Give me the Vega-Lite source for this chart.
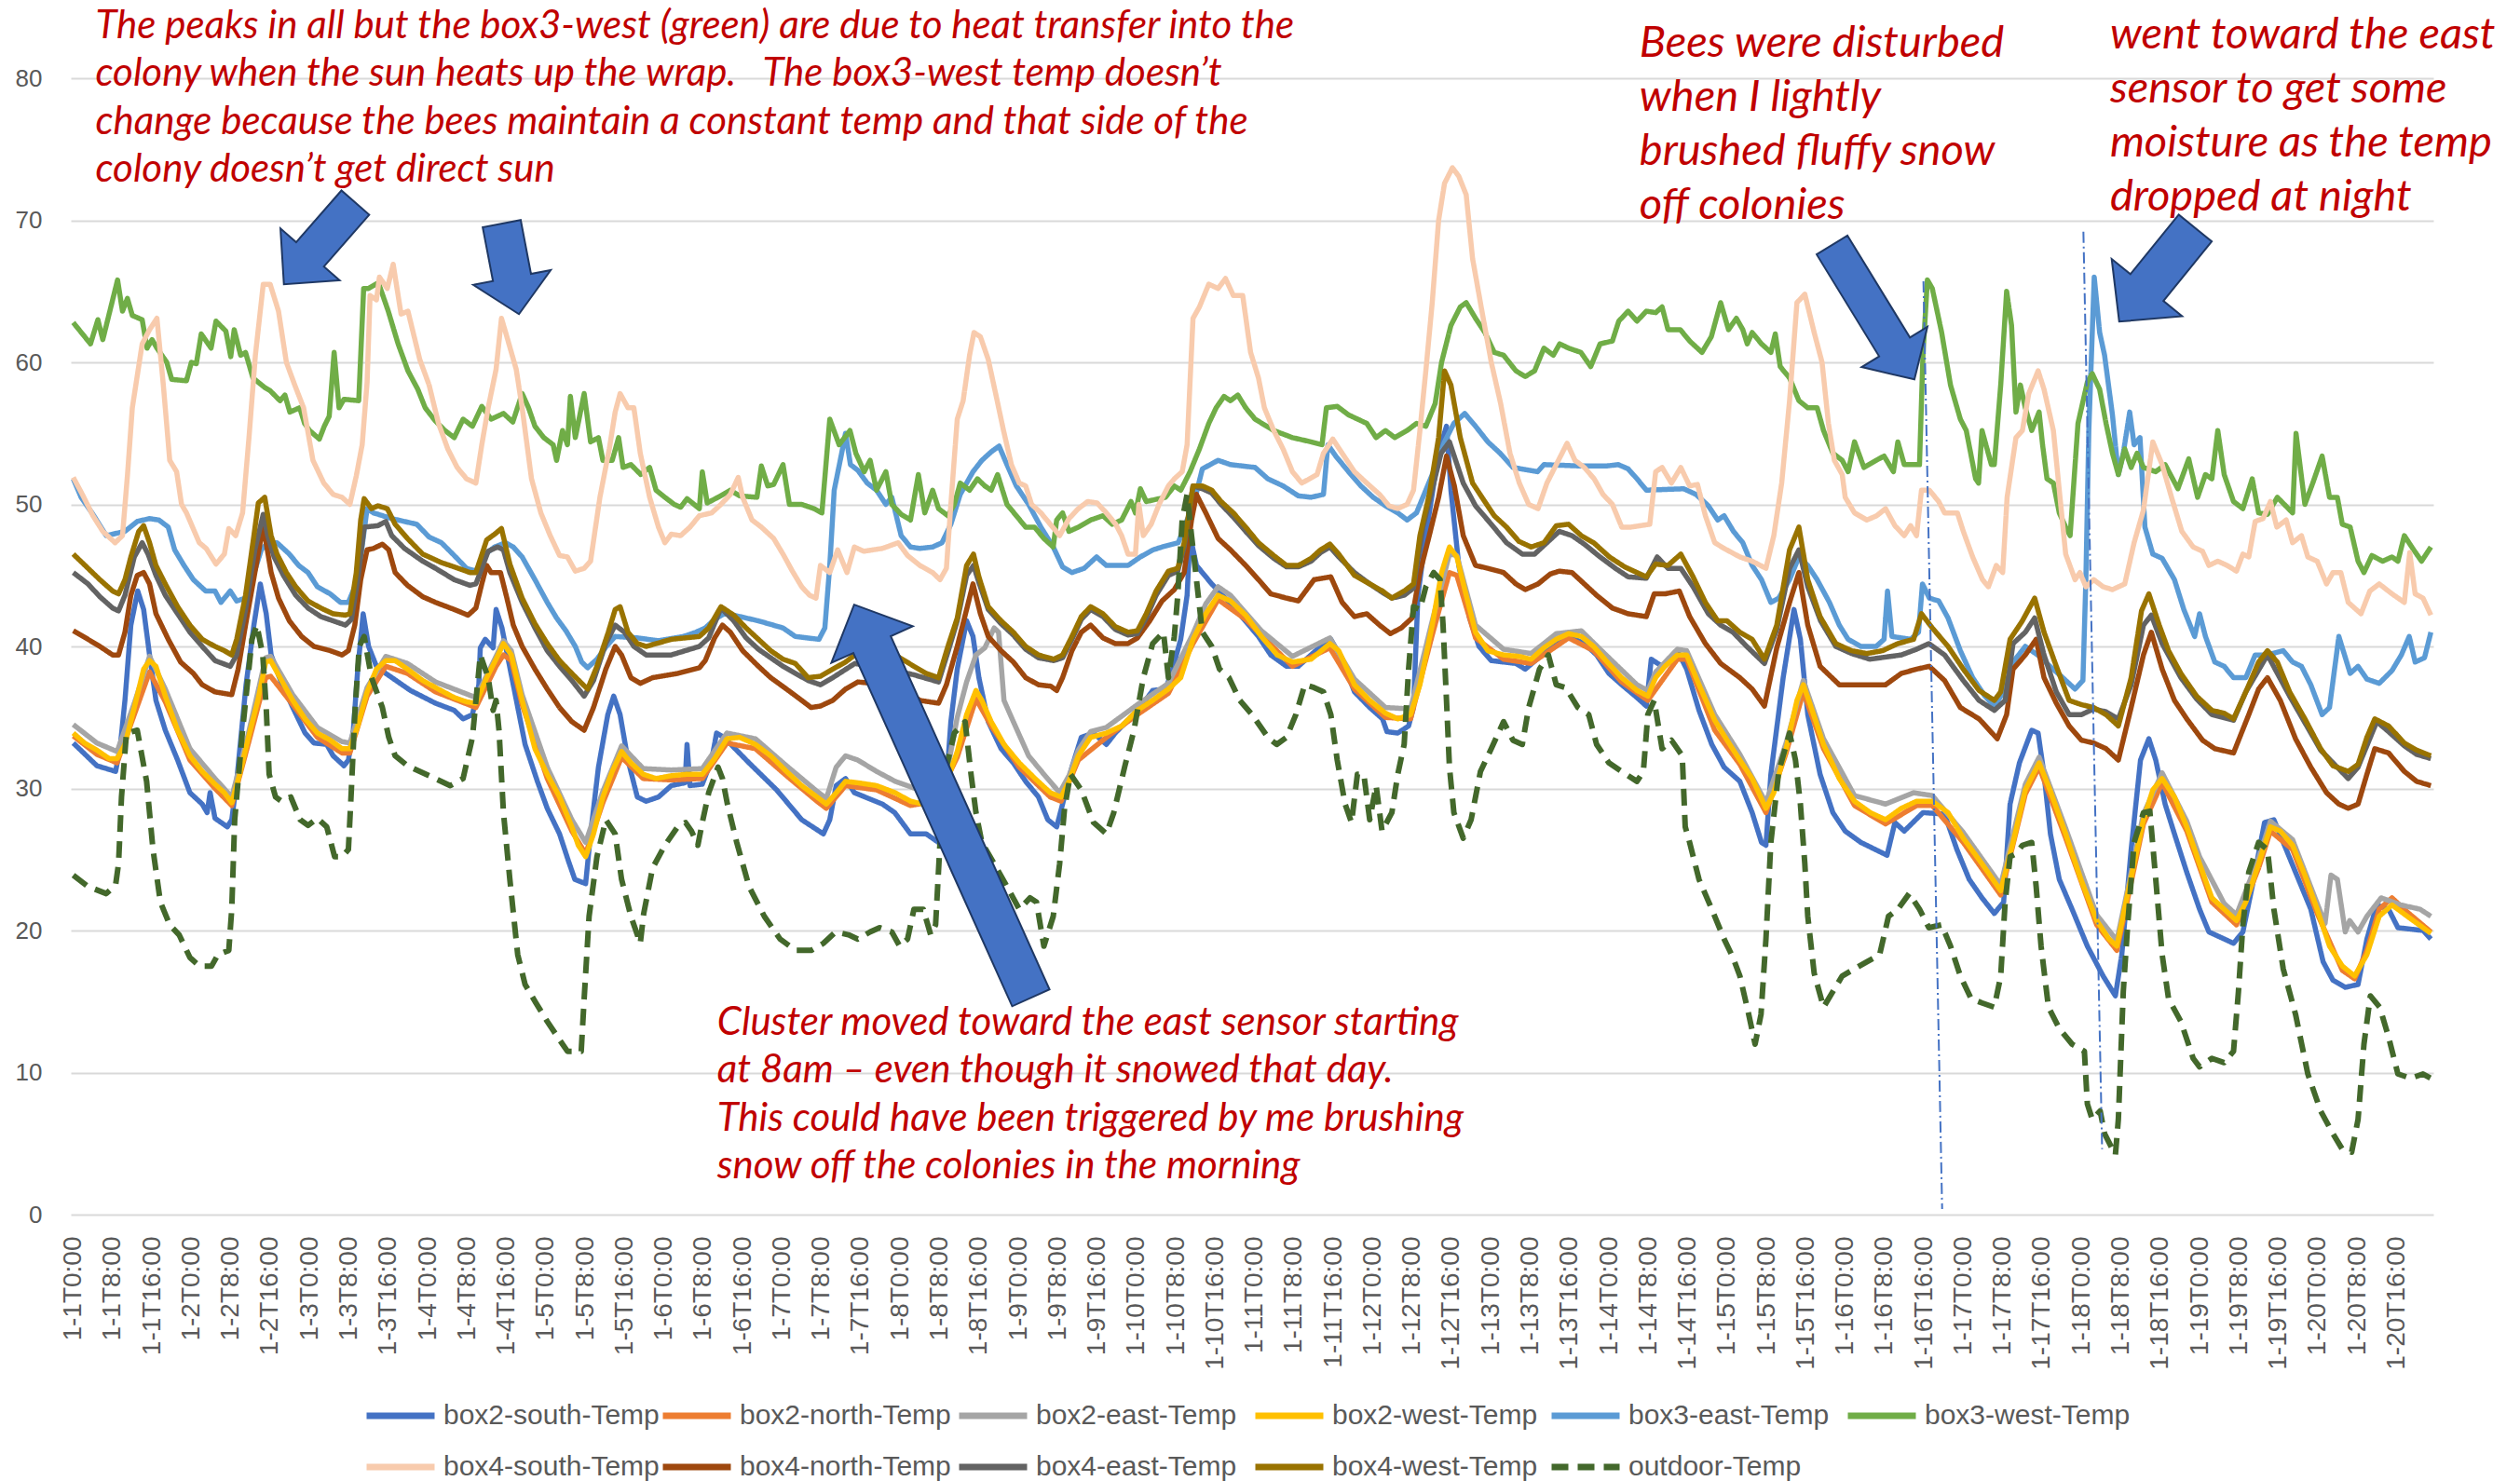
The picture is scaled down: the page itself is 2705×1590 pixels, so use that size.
{
"$schema":"https://vega.github.io/schema/vega-lite/v6.json",
"width":2536,"height":1220,
"autosize":{"type":"none"},
"padding":{"left":76,"top":84,"right":93,"bottom":286},
"background":"white",
"config":{"view":{"stroke":null}},
"datasets":{
"s2":[{"h":0,"v":33.2},{"h":4.8,"v":31.6},{"h":8.6,"v":31.2},{"h":9.5,"v":32.8},{"h":10.5,"v":36.2},{"h":11.7,"v":41.5},{"h":13.1,"v":43.9},{"h":14.3,"v":42.6},{"h":15.5,"v":39.4},{"h":16.8,"v":36.2},{"h":18.7,"v":34.1},{"h":21.2,"v":32},{"h":23.7,"v":29.7},{"h":26.2,"v":28.9},{"h":27.2,"v":28.3},{"h":27.8,"v":29.7},{"h":28.8,"v":27.9},{"h":31.3,"v":27.3},{"h":32.2,"v":27.8},{"h":33.2,"v":30.5},{"h":35.1,"v":37.3},{"h":36.7,"v":41.5},{"h":38,"v":44.4},{"h":39.2,"v":42.3},{"h":40.2,"v":39.4},{"h":42.1,"v":37.6},{"h":44.6,"v":35.7},{"h":47.1,"v":33.9},{"h":48.9,"v":33.2},{"h":51.5,"v":33.1},{"h":52.8,"v":32.3},{"h":55,"v":31.6},{"h":55.9,"v":32},{"h":56.9,"v":34.1},{"h":57.8,"v":38.4},{"h":58.9,"v":42.3},{"h":60,"v":40},{"h":61.6,"v":38.6},{"h":63.5,"v":38.1},{"h":68.5,"v":36.9},{"h":73.6,"v":36},{"h":77.4,"v":35.5},{"h":79.2,"v":34.9},{"h":81.1,"v":35.2},{"h":82.4,"v":37.3},{"h":82.7,"v":39.9},{"h":83.7,"v":40.5},{"h":85.3,"v":39.9},{"h":85.9,"v":42.6},{"h":87.1,"v":41.3},{"h":89.4,"v":37.3},{"h":91.8,"v":33.1},{"h":94.3,"v":30.5},{"h":96.3,"v":28.6},{"h":98.8,"v":26.8},{"h":100.6,"v":24.9},{"h":101.9,"v":23.6},{"h":104.1,"v":23.3},{"h":105.1,"v":26.8},{"h":106.7,"v":31.5},{"h":108.6,"v":35.2},{"h":109.8,"v":36.5},{"h":111.1,"v":35.2},{"h":112.7,"v":32},{"h":114.6,"v":29.4},{"h":116.4,"v":29.1},{"h":118.9,"v":29.4},{"h":121.5,"v":30.2},{"h":124.3,"v":30.4},{"h":124.7,"v":33.1},{"h":125.3,"v":30.2},{"h":127.8,"v":30.3},{"h":129.7,"v":32},{"h":130.7,"v":33.9},{"h":132.2,"v":33.6},{"h":137.3,"v":31.8},{"h":142.9,"v":29.9},{"h":148,"v":27.8},{"h":152.4,"v":26.8},{"h":153.7,"v":27.8},{"h":155,"v":30.2},{"h":156.9,"v":30.7},{"h":158.7,"v":29.7},{"h":164.4,"v":28.9},{"h":166.9,"v":28.3},{"h":170.1,"v":26.8},{"h":173.3,"v":26.8},{"h":175.8,"v":26.2},{"h":177.1,"v":28.9},{"h":178.3,"v":34.7},{"h":179.6,"v":38.4},{"h":181.5,"v":41.8},{"h":182.8,"v":40.7},{"h":184,"v":37.8},{"h":185.9,"v":34.7},{"h":188.5,"v":32.8},{"h":191,"v":31.8},{"h":193.5,"v":30.5},{"h":196.1,"v":29.4},{"h":198,"v":27.8},{"h":199.8,"v":27.3},{"h":201,"v":28.9},{"h":202.9,"v":31.5},{"h":204.8,"v":33.6},{"h":207.3,"v":33.9},{"h":209.9,"v":33.1},{"h":211.7,"v":33.9},{"h":216.8,"v":35.7},{"h":219.3,"v":36.9},{"h":221.9,"v":37},{"h":223.1,"v":38.1},{"h":225,"v":40.5},{"h":226.3,"v":43.6},{"h":226.9,"v":47.8},{"h":228.2,"v":45.7},{"h":231.3,"v":44.4},{"h":235.7,"v":42.8},{"h":240.8,"v":40.7},{"h":243.3,"v":39.4},{"h":246.5,"v":38.6},{"h":248.9,"v":38.6},{"h":253.4,"v":40},{"h":255.5,"v":40.5},{"h":257.8,"v":39.1},{"h":260.3,"v":36.8},{"h":263.4,"v":35.7},{"h":266,"v":34.9},{"h":266.9,"v":34},{"h":269.1,"v":33.9},{"h":271.3,"v":34.4},{"h":272.3,"v":35.7},{"h":273.2,"v":43.6},{"h":274.8,"v":47.8},{"h":276.7,"v":52.1},{"h":278.3,"v":54.7},{"h":279,"v":55.5},{"h":279.9,"v":51},{"h":281.5,"v":45.7},{"h":283.7,"v":42},{"h":285.6,"v":40},{"h":288.1,"v":39},{"h":293.1,"v":38.8},{"h":295,"v":38.4},{"h":299.4,"v":39.7},{"h":301.9,"v":40.5},{"h":304.5,"v":40.6},{"h":307,"v":40.2},{"h":309.5,"v":39.4},{"h":312,"v":38.1},{"h":314.6,"v":37.3},{"h":317.7,"v":36.4},{"h":319.6,"v":35.8},{"h":320.6,"v":39.1},{"h":322.8,"v":38.6},{"h":325.9,"v":39.7},{"h":327.8,"v":38.4},{"h":330.3,"v":35.5},{"h":332.9,"v":33.1},{"h":335.4,"v":31.5},{"h":338.6,"v":30.5},{"h":341.1,"v":28.3},{"h":343,"v":26.2},{"h":343.9,"v":26},{"h":344.9,"v":31},{"h":347.4,"v":37.8},{"h":349.6,"v":42.6},{"h":350.9,"v":40.5},{"h":352.4,"v":35.2},{"h":354.9,"v":31},{"h":357.5,"v":28.3},{"h":360,"v":27},{"h":363.2,"v":26.2},{"h":368.5,"v":25.3},{"h":370.1,"v":27.6},{"h":372,"v":27},{"h":375.8,"v":28.3},{"h":380.2,"v":28.2},{"h":382.7,"v":25.7},{"h":385.2,"v":23.6},{"h":387.8,"v":22.3},{"h":390.3,"v":21.2},{"h":392.2,"v":22},{"h":393.5,"v":28.9},{"h":395.4,"v":31.8},{"h":397.9,"v":34.1},{"h":399.2,"v":33.9},{"h":400.4,"v":31},{"h":401.7,"v":26.8},{"h":403.5,"v":23.6},{"h":406.1,"v":21.5},{"h":409.2,"v":18.9},{"h":412.4,"v":16.8},{"h":414.9,"v":15.4},{"h":416.2,"v":18.3},{"h":418.1,"v":25.7},{"h":420,"v":32},{"h":421.7,"v":33.5},{"h":423.1,"v":32},{"h":425,"v":28.9},{"h":426.9,"v":26.8},{"h":429.4,"v":24.1},{"h":432,"v":21.5},{"h":433.9,"v":19.9},{"h":438.9,"v":19.1},{"h":440.8,"v":19.9},{"h":442.7,"v":23.1},{"h":445.2,"v":27.6},{"h":447.1,"v":27.8},{"h":449.6,"v":25.7},{"h":452.1,"v":23.6},{"h":454.6,"v":21.5},{"h":457.1,"v":17.8},{"h":459.1,"v":16.5},{"h":461.6,"v":16},{"h":464.2,"v":16.2},{"h":466,"v":19.4},{"h":468,"v":21.8},{"h":470.4,"v":21.5},{"h":472.3,"v":20.2},{"h":477.4,"v":20},{"h":479,"v":19.4}],
"n2":[{"h":0,"v":33.7},{"h":4.8,"v":32.4},{"h":8.9,"v":31.8},{"h":12.4,"v":35.2},{"h":15.5,"v":38.2},{"h":18.7,"v":36.1},{"h":23.7,"v":32},{"h":28.8,"v":30},{"h":32.2,"v":28.8},{"h":35.6,"v":33.2},{"h":39.1,"v":37.8},{"h":40.1,"v":37.9},{"h":44.6,"v":35.9},{"h":49.6,"v":33.6},{"h":54.6,"v":32.5},{"h":56.2,"v":32.5},{"h":59.7,"v":36.5},{"h":63.5,"v":38.6},{"h":67.9,"v":38.1},{"h":73.6,"v":36.8},{"h":81.8,"v":35.7},{"h":85.9,"v":38.6},{"h":87.4,"v":39.4},{"h":89,"v":39},{"h":91.2,"v":35.9},{"h":96.3,"v":30.7},{"h":101.3,"v":27},{"h":104.1,"v":25.4},{"h":107.6,"v":29},{"h":111.4,"v":32.2},{"h":115.8,"v":30.7},{"h":121.5,"v":30.6},{"h":127.8,"v":30.7},{"h":132.8,"v":33.2},{"h":138.6,"v":32.8},{"h":144.9,"v":30.9},{"h":151.1,"v":29.1},{"h":153,"v":28.6},{"h":156.9,"v":30.2},{"h":163.2,"v":29.9},{"h":170.1,"v":28.8},{"h":175.2,"v":29.1},{"h":179.6,"v":32.2},{"h":183.4,"v":36.3},{"h":186.5,"v":34.4},{"h":192.2,"v":31.5},{"h":198.5,"v":29.4},{"h":200.7,"v":29.1},{"h":204.2,"v":32},{"h":209.9,"v":33.6},{"h":216.2,"v":35.2},{"h":222.5,"v":36.7},{"h":227.5,"v":40.2},{"h":232.6,"v":43.3},{"h":238.2,"v":41.9},{"h":247.7,"v":38.6},{"h":255.3,"v":39.9},{"h":260.3,"v":37},{"h":266.6,"v":35},{"h":271.7,"v":34.9},{"h":276.1,"v":40.8},{"h":279.6,"v":45.2},{"h":281.1,"v":45},{"h":284.9,"v":40.6},{"h":290.6,"v":39.1},{"h":296.2,"v":38.8},{"h":303.8,"v":40.6},{"h":308.9,"v":39.7},{"h":314.6,"v":37.5},{"h":319.9,"v":36.2},{"h":325.9,"v":39.1},{"h":327.8,"v":39.1},{"h":333.5,"v":34.1},{"h":338.6,"v":31.7},{"h":343.9,"v":28.3},{"h":348,"v":32.5},{"h":351.5,"v":36.8},{"h":355.6,"v":32.8},{"h":361.9,"v":28.8},{"h":368.2,"v":27.5},{"h":374.5,"v":28.8},{"h":377.7,"v":28.8},{"h":384,"v":26.2},{"h":391.6,"v":22.5},{"h":396.6,"v":29.6},{"h":399.4,"v":31.5},{"h":404.8,"v":26.5},{"h":411.1,"v":20.4},{"h":415.2,"v":18.6},{"h":420.6,"v":27.5},{"h":424.4,"v":30.4},{"h":429.4,"v":27},{"h":434.5,"v":22},{"h":439.5,"v":20.4},{"h":444,"v":24.4},{"h":446.4,"v":27},{"h":450.9,"v":25.7},{"h":455.9,"v":21.2},{"h":461,"v":17.2},{"h":463.5,"v":16.6},{"h":466,"v":18.6},{"h":468.5,"v":21.5},{"h":471.1,"v":22.3},{"h":474.2,"v":21.3},{"h":479,"v":19.9}],
"e2":[{"h":0,"v":34.5},{"h":4.8,"v":33.2},{"h":8.9,"v":32.6},{"h":12.4,"v":36},{"h":15.5,"v":39.3},{"h":18.7,"v":37},{"h":23.7,"v":32.8},{"h":28.8,"v":30.7},{"h":32.2,"v":29.4},{"h":35.6,"v":33.9},{"h":39.1,"v":39.2},{"h":40.1,"v":39.3},{"h":44.6,"v":36.6},{"h":49.6,"v":34.3},{"h":54.6,"v":33.3},{"h":56.2,"v":33.2},{"h":59.7,"v":37.1},{"h":63.5,"v":39.3},{"h":67.9,"v":38.8},{"h":73.6,"v":37.5},{"h":81.8,"v":36.4},{"h":85.9,"v":39.3},{"h":87.4,"v":40.4},{"h":89,"v":39.7},{"h":91.2,"v":36.6},{"h":96.3,"v":31.5},{"h":101.3,"v":27.8},{"h":104.1,"v":26.2},{"h":107.6,"v":29.8},{"h":111.4,"v":33},{"h":115.8,"v":31.4},{"h":121.5,"v":31.3},{"h":127.8,"v":31.4},{"h":132.8,"v":33.9},{"h":138.6,"v":33.5},{"h":144.9,"v":31.6},{"h":151.1,"v":29.8},{"h":153,"v":29.3},{"h":155,"v":31.5},{"h":156.9,"v":32.3},{"h":159.4,"v":32},{"h":163.2,"v":31.2},{"h":167,"v":30.5},{"h":172.7,"v":29.8},{"h":175.2,"v":30},{"h":177.7,"v":31.5},{"h":179.6,"v":35},{"h":181.5,"v":37.5},{"h":183.4,"v":39.4},{"h":185.2,"v":39.9},{"h":187.1,"v":41.3},{"h":188,"v":41},{"h":189.1,"v":36.2},{"h":191,"v":34.7},{"h":194.1,"v":32.3},{"h":197.2,"v":31},{"h":200.4,"v":29.7},{"h":202.3,"v":30.9},{"h":204.2,"v":32.7},{"h":206.7,"v":34},{"h":209.9,"v":34.3},{"h":216.2,"v":35.9},{"h":222.5,"v":37.4},{"h":227.5,"v":40.9},{"h":230.1,"v":43},{"h":232.6,"v":44.2},{"h":235.1,"v":43.6},{"h":241.4,"v":41.1},{"h":247.7,"v":39.3},{"h":255.3,"v":40.6},{"h":260.3,"v":37.7},{"h":266.6,"v":35.7},{"h":271.7,"v":35.6},{"h":276.1,"v":41.8},{"h":279.6,"v":46.5},{"h":281.1,"v":46.4},{"h":284.9,"v":41.5},{"h":290.6,"v":39.8},{"h":296.2,"v":39.5},{"h":301.3,"v":40.9},{"h":306.4,"v":41.1},{"h":311.4,"v":39.4},{"h":317.7,"v":37.3},{"h":319.9,"v":36.9},{"h":321.5,"v":38.2},{"h":325.9,"v":39.8},{"h":327.8,"v":39.7},{"h":333.5,"v":35.2},{"h":338.6,"v":32.4},{"h":343.9,"v":29},{"h":348,"v":33.2},{"h":351.5,"v":37.6},{"h":355.6,"v":33.5},{"h":361.9,"v":29.5},{"h":368.2,"v":28.9},{"h":373.9,"v":29.7},{"h":377.7,"v":29.5},{"h":384,"v":26.9},{"h":391.6,"v":23.2},{"h":396.6,"v":30.3},{"h":399.4,"v":32.2},{"h":404.8,"v":27.2},{"h":411.1,"v":21.1},{"h":415.2,"v":19.3},{"h":420.6,"v":28.2},{"h":424.4,"v":31.1},{"h":429.4,"v":27.7},{"h":432,"v":25.2},{"h":437,"v":21.9},{"h":439.5,"v":21.1},{"h":444,"v":25.1},{"h":446.4,"v":27.7},{"h":450.9,"v":26.4},{"h":455.9,"v":21.9},{"h":457.5,"v":20.5},{"h":458.7,"v":23.9},{"h":460,"v":23.6},{"h":461.6,"v":19.9},{"h":462.5,"v":20.7},{"h":464.2,"v":19.9},{"h":466,"v":21},{"h":468.9,"v":22.3},{"h":472.9,"v":21.8},{"h":476.8,"v":21.5},{"h":479,"v":21}],
"w2":[{"h":0,"v":33.9},{"h":2.3,"v":33.2},{"h":4.8,"v":32.7},{"h":7.3,"v":32.1},{"h":8.9,"v":32.1},{"h":10.5,"v":33.1},{"h":12.4,"v":35.7},{"h":14.3,"v":38.4},{"h":15.5,"v":39},{"h":16.8,"v":38.6},{"h":18.7,"v":36.5},{"h":21.2,"v":34.1},{"h":23.7,"v":32.3},{"h":26.2,"v":31.2},{"h":28.8,"v":30.3},{"h":30.7,"v":29.7},{"h":32.2,"v":29},{"h":33.8,"v":31},{"h":35.6,"v":33.6},{"h":37.5,"v":36.2},{"h":39.1,"v":38.9},{"h":40.1,"v":39},{"h":42,"v":37.8},{"h":44.6,"v":36.2},{"h":47.1,"v":34.9},{"h":49.6,"v":33.9},{"h":52.2,"v":33.4},{"h":54.6,"v":32.8},{"h":56.2,"v":32.8},{"h":57.8,"v":34.4},{"h":59.7,"v":36.8},{"h":61.6,"v":38.4},{"h":63.5,"v":39},{"h":65.4,"v":39},{"h":67.9,"v":38.4},{"h":71,"v":37.6},{"h":73.6,"v":37.1},{"h":77.4,"v":36.4},{"h":79.9,"v":36.1},{"h":81.8,"v":36},{"h":84,"v":37.8},{"h":85.9,"v":39.1},{"h":87.4,"v":40.2},{"h":89,"v":39.4},{"h":91.2,"v":36.2},{"h":93.8,"v":32.8},{"h":96.3,"v":31},{"h":98.8,"v":29.4},{"h":101.3,"v":27.3},{"h":102.6,"v":26},{"h":104.1,"v":25.2},{"h":105.7,"v":26.8},{"h":107.6,"v":29.4},{"h":109.5,"v":31.2},{"h":111.4,"v":32.6},{"h":113.3,"v":31.8},{"h":115.8,"v":31},{"h":118.4,"v":30.7},{"h":121.5,"v":30.9},{"h":124.7,"v":31},{"h":127.8,"v":31},{"h":130.3,"v":32.1},{"h":132.8,"v":33.5},{"h":135.4,"v":33.6},{"h":138.6,"v":33.1},{"h":141.7,"v":32.3},{"h":144.9,"v":31.2},{"h":148,"v":30.2},{"h":151.1,"v":29.4},{"h":153,"v":28.9},{"h":155,"v":29.7},{"h":156.9,"v":30.5},{"h":159.4,"v":30.4},{"h":163.2,"v":30.2},{"h":167,"v":29.7},{"h":170.1,"v":29.1},{"h":172.7,"v":28.9},{"h":175.2,"v":29.4},{"h":177.7,"v":30.7},{"h":179.6,"v":32.6},{"h":181.5,"v":35.2},{"h":183.4,"v":36.9},{"h":184.6,"v":36.2},{"h":186.5,"v":34.7},{"h":189.1,"v":33.1},{"h":192.2,"v":31.8},{"h":195.4,"v":30.7},{"h":198.5,"v":29.7},{"h":200.7,"v":29.4},{"h":202.3,"v":30.5},{"h":204.2,"v":32.3},{"h":206.7,"v":33.6},{"h":209.9,"v":33.9},{"h":213,"v":34.4},{"h":216.2,"v":35.5},{"h":219.3,"v":36.2},{"h":222.5,"v":37},{"h":225,"v":37.8},{"h":227.5,"v":40.5},{"h":230.1,"v":42.3},{"h":232.6,"v":43.6},{"h":235.1,"v":43.2},{"h":238.2,"v":42.2},{"h":241.4,"v":40.7},{"h":244.6,"v":39.4},{"h":247.7,"v":38.9},{"h":251.5,"v":39.1},{"h":255.3,"v":40.2},{"h":257.1,"v":39.7},{"h":260.3,"v":37.3},{"h":263.4,"v":36.2},{"h":266.6,"v":35.3},{"h":269.1,"v":34.9},{"h":271.7,"v":35.2},{"h":273.6,"v":37.3},{"h":276.1,"v":41.5},{"h":278,"v":45.2},{"h":279.6,"v":47},{"h":281.1,"v":46.3},{"h":283,"v":43.6},{"h":284.9,"v":41},{"h":287.4,"v":39.7},{"h":290.6,"v":39.4},{"h":293.7,"v":39.3},{"h":296.2,"v":39.1},{"h":298.8,"v":39.9},{"h":301.3,"v":40.5},{"h":303.8,"v":40.9},{"h":306.4,"v":40.7},{"h":308.9,"v":40},{"h":311.4,"v":39},{"h":314.6,"v":37.8},{"h":317.7,"v":36.9},{"h":319.9,"v":36.5},{"h":321.5,"v":37.8},{"h":323.4,"v":38.6},{"h":325.9,"v":39.4},{"h":327.8,"v":39.4},{"h":330.3,"v":37.3},{"h":333.5,"v":34.8},{"h":336,"v":33.4},{"h":338.6,"v":32},{"h":341.1,"v":30.7},{"h":343.9,"v":28.6},{"h":345.5,"v":29.7},{"h":348,"v":32.8},{"h":350.2,"v":36.2},{"h":351.5,"v":37.3},{"h":353.1,"v":35.7},{"h":355.6,"v":33.1},{"h":358.8,"v":30.7},{"h":361.9,"v":29.1},{"h":365.1,"v":28.3},{"h":368.2,"v":27.8},{"h":371.4,"v":28.6},{"h":374.5,"v":29.1},{"h":377.7,"v":29.1},{"h":380.9,"v":28.3},{"h":384,"v":26.5},{"h":387.8,"v":24.7},{"h":391.6,"v":22.8},{"h":394.1,"v":26.2},{"h":396.6,"v":29.9},{"h":399.4,"v":31.8},{"h":401.6,"v":29.9},{"h":404.8,"v":26.8},{"h":407.9,"v":23.6},{"h":411.1,"v":20.7},{"h":413.6,"v":19.4},{"h":415.2,"v":18.9},{"h":417.4,"v":22.6},{"h":420.6,"v":27.8},{"h":422.5,"v":29.9},{"h":424.4,"v":30.7},{"h":426.9,"v":29.4},{"h":429.4,"v":27.3},{"h":432,"v":24.7},{"h":434.5,"v":22.3},{"h":437,"v":21.5},{"h":439.5,"v":20.7},{"h":441.4,"v":22},{"h":444,"v":24.7},{"h":446.4,"v":27.3},{"h":448.4,"v":27},{"h":450.9,"v":26},{"h":453.4,"v":23.9},{"h":455.9,"v":21.5},{"h":458.4,"v":18.9},{"h":461,"v":17.5},{"h":463.5,"v":16.8},{"h":466,"v":18.3},{"h":468.5,"v":21},{"h":471.1,"v":21.8},{"h":474.2,"v":21},{"h":477.4,"v":20.2},{"h":479,"v":19.8}],
"e3":[{"h":0,"v":51.8},{"h":1.6,"v":50.5},{"h":4,"v":49.3},{"h":6.7,"v":47.8},{"h":10.5,"v":48.1},{"h":13,"v":48.8},{"h":15.5,"v":49},{"h":17.4,"v":48.9},{"h":19.3,"v":48.4},{"h":20.6,"v":46.8},{"h":22.5,"v":45.7},{"h":24.4,"v":44.7},{"h":26.9,"v":43.9},{"h":28.8,"v":43.9},{"h":30,"v":43.1},{"h":31.9,"v":43.9},{"h":33.2,"v":43.2},{"h":35,"v":43.4},{"h":36.3,"v":44.7},{"h":38.2,"v":46.8},{"h":39.5,"v":47.3},{"h":41.4,"v":47.3},{"h":43.9,"v":46.5},{"h":45.8,"v":45.7},{"h":47.7,"v":45.2},{"h":49.6,"v":44.2},{"h":52.2,"v":43.7},{"h":54.3,"v":43.1},{"h":55.9,"v":43.1},{"h":57.8,"v":44.7},{"h":59.7,"v":49.7},{"h":61,"v":49.4},{"h":64.7,"v":49},{"h":69.8,"v":48.6},{"h":72.3,"v":47.7},{"h":74.8,"v":47.3},{"h":77.4,"v":46.4},{"h":79.9,"v":45.5},{"h":81.8,"v":45.3},{"h":83.7,"v":46.5},{"h":85.6,"v":47},{"h":87.8,"v":47.3},{"h":89.4,"v":47},{"h":91.2,"v":46.3},{"h":93.8,"v":44.7},{"h":96.3,"v":43.1},{"h":98.2,"v":42},{"h":100.1,"v":41.1},{"h":102,"v":40},{"h":103.3,"v":38.9},{"h":104.5,"v":38.5},{"h":106.4,"v":39.1},{"h":108.3,"v":40},{"h":110.1,"v":40.7},{"h":114.6,"v":40.6},{"h":118.9,"v":40.4},{"h":124,"v":40.7},{"h":126.5,"v":41},{"h":128.4,"v":41.3},{"h":130.3,"v":41.9},{"h":132.2,"v":42.3},{"h":134.2,"v":42.2},{"h":139.2,"v":41.8},{"h":144.2,"v":41.3},{"h":146.7,"v":40.7},{"h":151.5,"v":40.5},{"h":152.7,"v":41.3},{"h":153.7,"v":45.7},{"h":154.6,"v":51},{"h":156,"v":53.4},{"h":156.9,"v":55},{"h":157.9,"v":52.8},{"h":159.4,"v":52.4},{"h":161.3,"v":51.5},{"h":163.2,"v":51},{"h":165.1,"v":50},{"h":166.3,"v":50.5},{"h":168.2,"v":47.8},{"h":170.1,"v":47},{"h":172,"v":46.9},{"h":174.6,"v":47},{"h":176.5,"v":47.3},{"h":178.3,"v":48.6},{"h":180.2,"v":50.7},{"h":182.8,"v":52.3},{"h":184.6,"v":53.1},{"h":186.5,"v":53.7},{"h":188.1,"v":54.1},{"h":189.7,"v":52.8},{"h":191.6,"v":51.3},{"h":194.1,"v":50},{"h":196.6,"v":48.4},{"h":199.1,"v":47},{"h":201,"v":45.6},{"h":202.9,"v":45.2},{"h":205.4,"v":45.5},{"h":207.9,"v":46.3},{"h":209.9,"v":45.7},{"h":214.3,"v":45.7},{"h":216.8,"v":46.3},{"h":219.4,"v":46.8},{"h":221.2,"v":47},{"h":224.5,"v":47.3},{"h":226.3,"v":48.9},{"h":227.6,"v":50},{"h":229.4,"v":52.5},{"h":232.6,"v":53.1},{"h":235.1,"v":52.8},{"h":240.1,"v":52.6},{"h":242.7,"v":51.8},{"h":245.8,"v":51.3},{"h":248.9,"v":50.6},{"h":251.5,"v":50.5},{"h":254,"v":50.7},{"h":254.9,"v":54.2},{"h":256.5,"v":53.4},{"h":259.1,"v":52.3},{"h":261.6,"v":51.3},{"h":264.1,"v":50.5},{"h":266.6,"v":49.9},{"h":269.1,"v":49.4},{"h":271,"v":48.9},{"h":272.9,"v":49.4},{"h":274.8,"v":51},{"h":276.7,"v":52.6},{"h":278.6,"v":54.4},{"h":280.5,"v":55.7},{"h":282.7,"v":56.4},{"h":284.9,"v":55.5},{"h":287.4,"v":54.4},{"h":289.9,"v":53.6},{"h":292.5,"v":52.6},{"h":297.5,"v":52.3},{"h":298.8,"v":52.8},{"h":306.4,"v":52.7},{"h":311.4,"v":52.7},{"h":313.9,"v":52.8},{"h":315.9,"v":52.5},{"h":317.7,"v":51.8},{"h":319.6,"v":51},{"h":327.2,"v":51.1},{"h":329.7,"v":50.7},{"h":332.2,"v":49.9},{"h":334.1,"v":48.9},{"h":335.4,"v":49.2},{"h":337.3,"v":48.1},{"h":339.2,"v":47.3},{"h":341.1,"v":45.7},{"h":343,"v":44.7},{"h":344.9,"v":43.1},{"h":346.5,"v":43.4},{"h":348.7,"v":44.7},{"h":350.6,"v":46.3},{"h":352.4,"v":45.7},{"h":354.3,"v":44.7},{"h":356.8,"v":43.1},{"h":358.8,"v":41.5},{"h":360.6,"v":40.5},{"h":363.2,"v":40},{"h":366.3,"v":40},{"h":367.9,"v":40.5},{"h":368.6,"v":43.9},{"h":369.5,"v":40.7},{"h":373.3,"v":40.5},{"h":374.9,"v":41},{"h":375.7,"v":44.4},{"h":377.1,"v":43.4},{"h":379,"v":43.2},{"h":380.9,"v":42},{"h":383.4,"v":39.7},{"h":385.9,"v":37.8},{"h":388.4,"v":36.5},{"h":390.3,"v":35.8},{"h":392.2,"v":36.8},{"h":394.1,"v":38.9},{"h":396.6,"v":40},{"h":399.1,"v":39.4},{"h":401.6,"v":38.6},{"h":404.2,"v":37.8},{"h":406.7,"v":37},{"h":408.3,"v":37.6},{"h":408.9,"v":44.7},{"h":409.5,"v":55.2},{"h":410.6,"v":66},{"h":411.7,"v":62.1},{"h":412.7,"v":60.5},{"h":414.3,"v":56.3},{"h":415.5,"v":52.1},{"h":416.5,"v":53.6},{"h":417.8,"v":56.5},{"h":418.7,"v":54.2},{"h":419.9,"v":54.7},{"h":420.9,"v":48.4},{"h":422.5,"v":46.5},{"h":424.4,"v":46.2},{"h":426.9,"v":44.7},{"h":428.8,"v":42.6},{"h":431,"v":40.7},{"h":432,"v":42.3},{"h":433.2,"v":40.7},{"h":435.1,"v":38.9},{"h":437,"v":38.6},{"h":438.9,"v":37.8},{"h":441.4,"v":37.8},{"h":443.3,"v":39.4},{"h":445.8,"v":39.4},{"h":449,"v":39.7},{"h":450.9,"v":38.9},{"h":452.7,"v":38.6},{"h":454.6,"v":37.3},{"h":456.9,"v":35.2},{"h":458.4,"v":35.7},{"h":460.3,"v":40.7},{"h":462.6,"v":38.1},{"h":464.2,"v":38.6},{"h":466,"v":37.7},{"h":468.5,"v":37.4},{"h":471.1,"v":38.3},{"h":473,"v":39.4},{"h":474.6,"v":40.7},{"h":475.8,"v":38.9},{"h":477.7,"v":39.2},{"h":479,"v":41}],
"w3":[{"h":0,"v":62.8},{"h":3.5,"v":61.3},{"h":5,"v":63},{"h":6,"v":61.6},{"h":9,"v":65.8},{"h":10,"v":63.6},{"h":11,"v":64.5},{"h":12,"v":63.3},{"h":14,"v":63},{"h":15,"v":61},{"h":16,"v":61.6},{"h":17,"v":61},{"h":19,"v":60},{"h":20,"v":58.8},{"h":23,"v":58.7},{"h":24,"v":60},{"h":25,"v":59.9},{"h":26,"v":62},{"h":28,"v":61},{"h":29,"v":62.9},{"h":31,"v":62.2},{"h":32,"v":60.4},{"h":32.7,"v":62.3},{"h":34,"v":60.5},{"h":35,"v":60.7},{"h":36.5,"v":58.9},{"h":39,"v":58.2},{"h":40,"v":58},{"h":42,"v":57.3},{"h":43,"v":57.7},{"h":44,"v":56.5},{"h":46,"v":56.8},{"h":47,"v":55.7},{"h":48,"v":55.2},{"h":50,"v":54.6},{"h":51,"v":55.5},{"h":52,"v":56.2},{"h":53,"v":60.7},{"h":54,"v":56.8},{"h":55,"v":57.4},{"h":58,"v":57.3},{"h":59,"v":65.2},{"h":60,"v":65.2},{"h":62,"v":65.6},{"h":64,"v":63.6},{"h":66,"v":61.3},{"h":68,"v":59.4},{"h":70,"v":58.1},{"h":71.5,"v":56.8},{"h":73.5,"v":55.9},{"h":75.5,"v":55.2},{"h":77.4,"v":54.7},{"h":79.2,"v":56},{"h":81.1,"v":55.5},{"h":83,"v":56.9},{"h":84.9,"v":56},{"h":87.4,"v":56.4},{"h":89.3,"v":55.8},{"h":91.2,"v":57.8},{"h":92.5,"v":56.8},{"h":93.8,"v":55.5},{"h":95.6,"v":54.7},{"h":97.5,"v":54.2},{"h":98.2,"v":53.1},{"h":99.4,"v":55.2},{"h":100.4,"v":54.2},{"h":101,"v":57.6},{"h":102,"v":54.7},{"h":103.8,"v":57.8},{"h":105.1,"v":54.4},{"h":106.7,"v":54.7},{"h":107.6,"v":53.1},{"h":109.5,"v":53.1},{"h":110.8,"v":54.7},{"h":111.7,"v":52.6},{"h":113.3,"v":52.8},{"h":115.3,"v":52.1},{"h":117.1,"v":52.6},{"h":118.4,"v":51},{"h":120.2,"v":50.5},{"h":122.1,"v":50},{"h":123.4,"v":49.8},{"h":124.7,"v":50.4},{"h":127.2,"v":49.7},{"h":127.8,"v":52.3},{"h":128.8,"v":50.1},{"h":131,"v":50.5},{"h":133.5,"v":51},{"h":135.4,"v":50.6},{"h":138.9,"v":50.5},{"h":139.8,"v":52.7},{"h":141.1,"v":51.3},{"h":142.3,"v":51.4},{"h":144.2,"v":52.8},{"h":145.5,"v":50},{"h":148,"v":50},{"h":150.5,"v":49.7},{"h":152.1,"v":49.4},{"h":153.7,"v":56},{"h":155.6,"v":54.2},{"h":157.8,"v":55.2},{"h":159,"v":53.6},{"h":160.7,"v":52.3},{"h":161.9,"v":53.1},{"h":163.2,"v":51},{"h":165.1,"v":52.3},{"h":166.3,"v":50},{"h":168.2,"v":49.3},{"h":170.1,"v":48.9},{"h":171.7,"v":52.1},{"h":173,"v":49.4},{"h":174.6,"v":51},{"h":175.8,"v":49.7},{"h":177.7,"v":49.2},{"h":179,"v":50},{"h":180.2,"v":51.5},{"h":182.1,"v":51},{"h":183.7,"v":51.8},{"h":185.2,"v":51.3},{"h":186.5,"v":51},{"h":187.8,"v":52.1},{"h":189.7,"v":50},{"h":191.6,"v":49.2},{"h":193.5,"v":48.4},{"h":195.3,"v":48.4},{"h":197.2,"v":47.6},{"h":199.1,"v":47},{"h":199.8,"v":48.9},{"h":201,"v":49.4},{"h":202.3,"v":48.1},{"h":204.2,"v":48.4},{"h":206.7,"v":48.9},{"h":209.2,"v":49.2},{"h":211.1,"v":48.6},{"h":213,"v":48.9},{"h":214.9,"v":50.2},{"h":215.8,"v":49.4},{"h":216.8,"v":51.1},{"h":218,"v":50.2},{"h":221.9,"v":50.5},{"h":223.7,"v":51.3},{"h":225,"v":51},{"h":226.9,"v":52.3},{"h":228.8,"v":53.9},{"h":230.7,"v":55.7},{"h":232.2,"v":56.8},{"h":233.8,"v":57.6},{"h":235.1,"v":57.3},{"h":236.6,"v":57.7},{"h":238.2,"v":56.8},{"h":240.1,"v":56},{"h":243.9,"v":55.2},{"h":247.7,"v":54.7},{"h":251.5,"v":54.4},{"h":253.7,"v":54.2},{"h":254.6,"v":56.8},{"h":256.8,"v":56.9},{"h":259.1,"v":56.3},{"h":262.8,"v":55.7},{"h":264.7,"v":54.7},{"h":266.6,"v":55.2},{"h":268.5,"v":54.7},{"h":271,"v":55.2},{"h":272.9,"v":55.7},{"h":274.8,"v":55.5},{"h":276.7,"v":57.1},{"h":278,"v":60},{"h":279.9,"v":62.6},{"h":281.8,"v":63.9},{"h":283,"v":64.2},{"h":284.9,"v":63.1},{"h":286.8,"v":62.1},{"h":288.7,"v":60.7},{"h":290.6,"v":60.5},{"h":293.1,"v":59.4},{"h":295,"v":59},{"h":296.9,"v":59.4},{"h":298.8,"v":61},{"h":300.7,"v":60.5},{"h":302,"v":61.3},{"h":303.8,"v":61},{"h":306.3,"v":60.7},{"h":308.3,"v":59.7},{"h":310.2,"v":61.3},{"h":312.7,"v":61.5},{"h":314,"v":62.9},{"h":315.9,"v":63.6},{"h":317.7,"v":62.9},{"h":319.6,"v":63.6},{"h":321.5,"v":63.5},{"h":322.8,"v":63.9},{"h":324,"v":62.3},{"h":326.5,"v":62.3},{"h":328.4,"v":61.5},{"h":330.9,"v":60.7},{"h":332.8,"v":61.8},{"h":334.7,"v":64.2},{"h":336.3,"v":62.3},{"h":337.9,"v":63.1},{"h":339.2,"v":62.3},{"h":340.1,"v":61.3},{"h":341.1,"v":62.1},{"h":343,"v":61.3},{"h":344.9,"v":60.7},{"h":345.8,"v":62},{"h":346.8,"v":59.7},{"h":348.7,"v":58.9},{"h":350.6,"v":57.3},{"h":352.4,"v":56.8},{"h":354.3,"v":56.8},{"h":355.6,"v":55.2},{"h":357.5,"v":53.6},{"h":359.4,"v":53.1},{"h":360.6,"v":52.3},{"h":361.9,"v":54.4},{"h":363.8,"v":52.6},{"h":366.3,"v":53.1},{"h":367.9,"v":53.4},{"h":369.8,"v":52.3},{"h":370.7,"v":54.4},{"h":372,"v":52.8},{"h":375.1,"v":52.8},{"h":375.8,"v":60.5},{"h":376.7,"v":65.8},{"h":377.7,"v":65.2},{"h":379.6,"v":62.1},{"h":381.4,"v":58.4},{"h":383.4,"v":56},{"h":384.6,"v":55.2},{"h":386.5,"v":51.8},{"h":387.1,"v":51.5},{"h":387.8,"v":55.2},{"h":389.7,"v":52.8},{"h":390.3,"v":52.8},{"h":391.6,"v":58.4},{"h":392.8,"v":65},{"h":393.8,"v":62.6},{"h":394.7,"v":56.5},{"h":395.6,"v":58.4},{"h":396.6,"v":56.8},{"h":397.9,"v":55.2},{"h":399.4,"v":56.5},{"h":400.1,"v":54.2},{"h":401,"v":51.8},{"h":402.3,"v":51.5},{"h":403.5,"v":49.4},{"h":404.8,"v":48.4},{"h":405.7,"v":47.8},{"h":407.3,"v":55.7},{"h":409.2,"v":58.6},{"h":410.2,"v":59.2},{"h":411.7,"v":58.1},{"h":413,"v":55.7},{"h":414.3,"v":53.6},{"h":415.5,"v":52.1},{"h":416.8,"v":53.9},{"h":418.1,"v":52.6},{"h":419.3,"v":53.6},{"h":420.6,"v":52.6},{"h":423.1,"v":52.3},{"h":425,"v":52.8},{"h":427.6,"v":51.1},{"h":429.8,"v":53.2},{"h":431.6,"v":50.5},{"h":433.2,"v":52.1},{"h":434.5,"v":51.8},{"h":435.7,"v":55.2},{"h":437,"v":52.1},{"h":438.9,"v":50.2},{"h":440.8,"v":49.7},{"h":442.7,"v":51.8},{"h":444,"v":49.4},{"h":445.8,"v":49.3},{"h":447.8,"v":50.5},{"h":450.9,"v":49.4},{"h":451.6,"v":55},{"h":453.4,"v":50},{"h":455,"v":51.5},{"h":456.9,"v":53.4},{"h":458.4,"v":50.5},{"h":460,"v":50.5},{"h":461,"v":48.6},{"h":462.6,"v":48.4},{"h":464.2,"v":46},{"h":465.4,"v":45.2},{"h":467,"v":46.4},{"h":469.2,"v":46},{"h":471.1,"v":46.3},{"h":472.3,"v":46},{"h":473.6,"v":47.8},{"h":475.5,"v":46.8},{"h":477.1,"v":46},{"h":479,"v":47}],
"s4":[{"h":0,"v":51.9},{"h":2,"v":50.6},{"h":4,"v":49.2},{"h":6,"v":48.1},{"h":8.5,"v":47.3},{"h":10,"v":47.8},{"h":11,"v":52},{"h":12,"v":56.8},{"h":14,"v":61.3},{"h":15.5,"v":62.3},{"h":17,"v":63.1},{"h":18.3,"v":58.4},{"h":19.6,"v":53.1},{"h":21,"v":52.3},{"h":22,"v":50},{"h":23,"v":49.4},{"h":25.6,"v":47.3},{"h":27,"v":46.9},{"h":29,"v":45.8},{"h":30.7,"v":46.5},{"h":31.6,"v":48.3},{"h":33,"v":47.8},{"h":34.4,"v":49.4},{"h":35.7,"v":54.7},{"h":37,"v":60.5},{"h":38.6,"v":65.5},{"h":40,"v":65.5},{"h":41.7,"v":63.6},{"h":43.3,"v":60},{"h":45,"v":58.4},{"h":46.8,"v":56.8},{"h":48.7,"v":53.1},{"h":50.9,"v":51.5},{"h":52.8,"v":50.7},{"h":54.6,"v":50.5},{"h":56.2,"v":50},{"h":57.5,"v":52},{"h":58.7,"v":54.2},{"h":59.7,"v":58.6},{"h":60.3,"v":64.7},{"h":61.6,"v":64.4},{"h":62.2,"v":66},{"h":63.8,"v":65.2},{"h":65,"v":66.9},{"h":66.6,"v":63.4},{"h":68,"v":63.6},{"h":70.4,"v":60.2},{"h":72.3,"v":58.4},{"h":74.2,"v":55.7},{"h":76.1,"v":53.9},{"h":78,"v":52.6},{"h":79.9,"v":51.8},{"h":81.8,"v":51.5},{"h":83,"v":54.2},{"h":84.3,"v":56.8},{"h":85.9,"v":59.5},{"h":87,"v":63.1},{"h":88.1,"v":61.8},{"h":90,"v":59.5},{"h":91.2,"v":56.8},{"h":93.1,"v":51.8},{"h":95,"v":49.4},{"h":96.9,"v":47.8},{"h":98.8,"v":46.4},{"h":100.4,"v":46.3},{"h":102,"v":45.3},{"h":103.8,"v":45.5},{"h":105.1,"v":46},{"h":107,"v":50.5},{"h":108.9,"v":53.9},{"h":110.1,"v":56.5},{"h":111.1,"v":57.8},{"h":112.7,"v":56.8},{"h":113.9,"v":56.8},{"h":115.2,"v":53.6},{"h":117.1,"v":50.5},{"h":118.9,"v":48.4},{"h":120.2,"v":47.3},{"h":121.5,"v":47.9},{"h":123.4,"v":47.8},{"h":125.3,"v":48.4},{"h":127.2,"v":49.2},{"h":129.7,"v":49.4},{"h":131.6,"v":50},{"h":133.5,"v":50.7},{"h":135.1,"v":51.9},{"h":136,"v":50.5},{"h":137.9,"v":48.9},{"h":139.8,"v":48.4},{"h":142.3,"v":47.6},{"h":144.2,"v":46.5},{"h":146.1,"v":45.3},{"h":148,"v":44.2},{"h":149.6,"v":43.6},{"h":150.9,"v":43.4},{"h":151.8,"v":45.7},{"h":153.7,"v":45.2},{"h":155.3,"v":46.8},{"h":157.2,"v":45.2},{"h":158.7,"v":47},{"h":160.6,"v":46.7},{"h":164.4,"v":46.9},{"h":167.6,"v":47.3},{"h":169.5,"v":46.4},{"h":172,"v":45.7},{"h":174.6,"v":45.2},{"h":176.1,"v":44.7},{"h":177.4,"v":45.5},{"h":178.3,"v":50},{"h":179.6,"v":56},{"h":180.8,"v":57.3},{"h":182.1,"v":60.5},{"h":183,"v":62.1},{"h":184.3,"v":61.8},{"h":185.9,"v":60.2},{"h":187.4,"v":57.8},{"h":189,"v":55.2},{"h":190.6,"v":52.8},{"h":192.2,"v":51.5},{"h":193.5,"v":51.3},{"h":194.7,"v":50},{"h":196.6,"v":49.4},{"h":198.5,"v":48.6},{"h":200.4,"v":47.8},{"h":202.3,"v":49},{"h":204.2,"v":49.7},{"h":206.1,"v":50.2},{"h":208,"v":50.1},{"h":209.9,"v":49.4},{"h":211.8,"v":48.6},{"h":213,"v":47.8},{"h":214.3,"v":46.5},{"h":215.8,"v":46.5},{"h":216.5,"v":50},{"h":217.4,"v":47.8},{"h":219,"v":48.6},{"h":220.6,"v":50},{"h":222.5,"v":51.3},{"h":223.7,"v":51.8},{"h":225.3,"v":52.3},{"h":226.3,"v":54.2},{"h":227.5,"v":63.1},{"h":228.8,"v":63.9},{"h":230.7,"v":65.5},{"h":232.6,"v":65.2},{"h":234.1,"v":65.9},{"h":235.7,"v":64.7},{"h":237.6,"v":64.7},{"h":239.2,"v":60.7},{"h":240.8,"v":58.9},{"h":242,"v":56.8},{"h":243.9,"v":55.2},{"h":245.8,"v":53.9},{"h":247.7,"v":52.3},{"h":249.6,"v":51.5},{"h":252.7,"v":52.1},{"h":254,"v":53.6},{"h":255.9,"v":54.6},{"h":257.8,"v":53.6},{"h":260.3,"v":52.3},{"h":262.8,"v":51.5},{"h":265.4,"v":50.7},{"h":267.3,"v":49.9},{"h":269.1,"v":49.7},{"h":271,"v":50},{"h":272.3,"v":51},{"h":273.6,"v":55.2},{"h":274.8,"v":59.4},{"h":276.1,"v":64.2},{"h":277.4,"v":70},{"h":278.6,"v":72.6},{"h":280.2,"v":73.7},{"h":281.5,"v":73.1},{"h":283,"v":71.8},{"h":284.3,"v":67.3},{"h":286.2,"v":63.6},{"h":288.1,"v":60},{"h":290,"v":57.1},{"h":291.9,"v":53.6},{"h":293.8,"v":51.5},{"h":295.7,"v":50},{"h":297.6,"v":49.7},{"h":299.4,"v":51.5},{"h":301.3,"v":52.8},{"h":303.5,"v":54.3},{"h":305.1,"v":53.1},{"h":307,"v":52.6},{"h":309,"v":51.8},{"h":310.8,"v":50.7},{"h":312.7,"v":50},{"h":314.6,"v":48.4},{"h":316.5,"v":48.4},{"h":320.3,"v":48.6},{"h":321.5,"v":52.3},{"h":322.8,"v":52.6},{"h":324.7,"v":51.5},{"h":326.6,"v":52.6},{"h":328.4,"v":51.3},{"h":330,"v":51.4},{"h":331.6,"v":49.2},{"h":333.5,"v":47.3},{"h":335.4,"v":46.9},{"h":338.6,"v":46.3},{"h":341.1,"v":46},{"h":343.9,"v":45.5},{"h":345.5,"v":47.8},{"h":347.1,"v":51.5},{"h":348.7,"v":57.3},{"h":350.2,"v":64.2},{"h":351.8,"v":64.8},{"h":353.7,"v":62.1},{"h":355.3,"v":60},{"h":356.6,"v":55.7},{"h":357.8,"v":53.1},{"h":359.4,"v":52.1},{"h":360,"v":50.5},{"h":361.9,"v":49.4},{"h":364.4,"v":48.9},{"h":366.4,"v":49.2},{"h":368.2,"v":49.7},{"h":370.1,"v":48.5},{"h":372,"v":47.8},{"h":373.3,"v":48.5},{"h":374.5,"v":47.8},{"h":375.5,"v":51},{"h":377.1,"v":51},{"h":379,"v":50.2},{"h":380.2,"v":49.4},{"h":382.8,"v":49.4},{"h":384,"v":48.1},{"h":385.9,"v":46.3},{"h":387.9,"v":44.7},{"h":389.1,"v":44.2},{"h":390.7,"v":45.7},{"h":392,"v":45.2},{"h":392.9,"v":50.5},{"h":394.7,"v":54.7},{"h":396,"v":55.2},{"h":397.3,"v":57.8},{"h":399.2,"v":59.4},{"h":400.4,"v":58.1},{"h":402.3,"v":55.2},{"h":403.5,"v":51},{"h":404.8,"v":46.5},{"h":406.7,"v":44.7},{"h":407.7,"v":45.2},{"h":408.9,"v":44.2},{"h":410.5,"v":44.7},{"h":412.4,"v":44.2},{"h":414.3,"v":44},{"h":416.8,"v":44.4},{"h":418.7,"v":47.3},{"h":420.6,"v":49.6},{"h":422.5,"v":54.4},{"h":424.4,"v":52.8},{"h":426.3,"v":50.5},{"h":428.4,"v":48.1},{"h":430.7,"v":47},{"h":432.6,"v":46.7},{"h":433.9,"v":45.7},{"h":435.7,"v":46},{"h":437.6,"v":45.7},{"h":439.5,"v":45.3},{"h":440.8,"v":46.5},{"h":442,"v":46.3},{"h":443.3,"v":48.8},{"h":444.9,"v":49},{"h":446.4,"v":50.2},{"h":447.7,"v":48.4},{"h":449.6,"v":48.9},{"h":450.9,"v":47.3},{"h":452.7,"v":47.8},{"h":454,"v":46.3},{"h":455.9,"v":46},{"h":457.8,"v":44.4},{"h":459.1,"v":45.2},{"h":460.7,"v":45.2},{"h":462.2,"v":43.1},{"h":464.8,"v":42.3},{"h":466.6,"v":43.9},{"h":468.5,"v":44.4},{"h":471.1,"v":43.7},{"h":473.6,"v":43.1},{"h":474.7,"v":46.6},{"h":475.8,"v":43.7},{"h":477.4,"v":43.4},{"h":479,"v":42.2}],
"n4":[{"h":0,"v":41.1},{"h":3,"v":40.5},{"h":5.4,"v":40},{"h":8,"v":39.4},{"h":9.2,"v":39.4},{"h":10.5,"v":41},{"h":11.7,"v":43.6},{"h":13,"v":45},{"h":14.3,"v":45.2},{"h":15.5,"v":44.4},{"h":16.8,"v":42.3},{"h":19.3,"v":40.5},{"h":21.8,"v":38.9},{"h":24.4,"v":38.1},{"h":26.2,"v":37.3},{"h":28.8,"v":36.8},{"h":32.2,"v":36.6},{"h":33.5,"v":38.4},{"h":35,"v":41.5},{"h":36.9,"v":45.2},{"h":38.6,"v":48.5},{"h":40.2,"v":45.2},{"h":41.7,"v":43.4},{"h":43.9,"v":41.8},{"h":46.4,"v":40.7},{"h":48.9,"v":40},{"h":52.2,"v":39.7},{"h":54.6,"v":39.4},{"h":55.9,"v":39.7},{"h":57.2,"v":41.5},{"h":58.4,"v":44.7},{"h":59.7,"v":46.8},{"h":61,"v":46.9},{"h":62.8,"v":47.2},{"h":64.1,"v":46.8},{"h":65.4,"v":45.2},{"h":67.9,"v":44.3},{"h":71,"v":43.5},{"h":73.6,"v":43.1},{"h":77.4,"v":42.6},{"h":80.2,"v":42.2},{"h":81.8,"v":42.7},{"h":83,"v":44.4},{"h":84,"v":45.7},{"h":84.9,"v":45.2},{"h":86.8,"v":45.2},{"h":88.1,"v":43.4},{"h":89.4,"v":41.5},{"h":91.2,"v":40},{"h":93.8,"v":38.4},{"h":96.3,"v":37},{"h":98.8,"v":35.7},{"h":101.3,"v":34.7},{"h":103.8,"v":34.1},{"h":105.7,"v":35.7},{"h":108.2,"v":38.4},{"h":110.1,"v":40},{"h":111.4,"v":39.4},{"h":113.3,"v":37.8},{"h":115.2,"v":37.4},{"h":117.7,"v":37.8},{"h":122.8,"v":38.1},{"h":127.2,"v":38.5},{"h":128.4,"v":39},{"h":130.3,"v":40.6},{"h":131.9,"v":41.5},{"h":133.5,"v":41},{"h":136,"v":39.7},{"h":139.2,"v":38.6},{"h":141.7,"v":37.8},{"h":144.9,"v":37},{"h":148,"v":36.2},{"h":149.9,"v":35.7},{"h":151.8,"v":35.8},{"h":154.3,"v":36.2},{"h":156.9,"v":37},{"h":159.4,"v":37.5},{"h":165.7,"v":37.3},{"h":169.5,"v":36.8},{"h":172,"v":36.2},{"h":175.8,"v":36},{"h":177.4,"v":37.3},{"h":179.6,"v":40},{"h":181.5,"v":42.6},{"h":182.8,"v":44.4},{"h":184.3,"v":42.3},{"h":185.9,"v":40.7},{"h":188.5,"v":39.7},{"h":191,"v":38.9},{"h":193.5,"v":37.8},{"h":196.1,"v":37.3},{"h":198.6,"v":37.2},{"h":199.8,"v":36.9},{"h":201,"v":37.8},{"h":202.9,"v":39.7},{"h":204.8,"v":41},{"h":206.7,"v":41.5},{"h":209.2,"v":40.6},{"h":211.7,"v":40.2},{"h":214.3,"v":40.2},{"h":216.2,"v":40.6},{"h":218.7,"v":41.8},{"h":221.2,"v":43.2},{"h":223.7,"v":44},{"h":225.7,"v":45.2},{"h":227.2,"v":48.9},{"h":228.2,"v":50.7},{"h":230.1,"v":49.4},{"h":232.6,"v":47.6},{"h":235.1,"v":46.8},{"h":238.2,"v":45.7},{"h":240.8,"v":44.7},{"h":243.3,"v":43.7},{"h":246.5,"v":43.4},{"h":248.9,"v":43.2},{"h":252.1,"v":44.7},{"h":255.5,"v":44.9},{"h":257.8,"v":43.1},{"h":260.3,"v":42.1},{"h":262.8,"v":42.3},{"h":265.4,"v":41.5},{"h":267.6,"v":40.9},{"h":269.8,"v":41.3},{"h":272,"v":42},{"h":273.6,"v":45.2},{"h":275.5,"v":47.8},{"h":277.4,"v":50.5},{"h":279,"v":53.4},{"h":280.6,"v":51.3},{"h":282.4,"v":47.8},{"h":284.9,"v":45.7},{"h":287.4,"v":45.5},{"h":290.6,"v":45.2},{"h":293.1,"v":44.4},{"h":295,"v":44},{"h":297.6,"v":44.4},{"h":300.1,"v":45.1},{"h":301.9,"v":45.3},{"h":304.5,"v":45.2},{"h":307,"v":44.4},{"h":309.5,"v":43.6},{"h":312.7,"v":42.7},{"h":315.9,"v":42.3},{"h":319.6,"v":42.1},{"h":321.2,"v":43.7},{"h":323.4,"v":43.7},{"h":326.3,"v":43.9},{"h":328.4,"v":42.1},{"h":331.6,"v":40.2},{"h":334.7,"v":38.8},{"h":338.6,"v":37.8},{"h":341.1,"v":37},{"h":343.6,"v":35.8},{"h":346.1,"v":39.9},{"h":348.7,"v":43.1},{"h":350.6,"v":45.2},{"h":352.4,"v":41.5},{"h":354.9,"v":38.6},{"h":358.8,"v":37.3},{"h":368.2,"v":37.3},{"h":371.4,"v":38.1},{"h":374.5,"v":38.4},{"h":377.1,"v":38.6},{"h":380.2,"v":37.6},{"h":383.4,"v":35.7},{"h":387.2,"v":34.9},{"h":390.9,"v":33.5},{"h":392.8,"v":35.2},{"h":394.1,"v":38.4},{"h":396.6,"v":39.4},{"h":398.8,"v":40.5},{"h":400.4,"v":37.8},{"h":402.9,"v":36},{"h":405.5,"v":34.4},{"h":408,"v":33.4},{"h":410.5,"v":33.2},{"h":413,"v":32.8},{"h":415.5,"v":32},{"h":418.1,"v":35.7},{"h":420.6,"v":39.4},{"h":422.2,"v":41},{"h":424.4,"v":38.4},{"h":426.9,"v":36.2},{"h":429.4,"v":34.9},{"h":432.6,"v":33.4},{"h":435.1,"v":32.8},{"h":438.9,"v":32.5},{"h":442,"v":35.2},{"h":444,"v":37},{"h":445.8,"v":37.8},{"h":448.4,"v":36.2},{"h":451.5,"v":33.5},{"h":454.6,"v":31.5},{"h":457.8,"v":29.7},{"h":460.3,"v":28.9},{"h":462.2,"v":28.6},{"h":464.2,"v":28.9},{"h":466,"v":31},{"h":467.6,"v":32.8},{"h":470.4,"v":32.5},{"h":473.6,"v":31.2},{"h":476.1,"v":30.5},{"h":479,"v":30.2}],
"e4":[{"h":0,"v":45.2},{"h":3,"v":44.4},{"h":5.4,"v":43.5},{"h":8,"v":42.7},{"h":9.2,"v":42.5},{"h":10.5,"v":43.6},{"h":12.4,"v":46.3},{"h":14,"v":47.3},{"h":15.2,"v":46.5},{"h":16.8,"v":45},{"h":18.7,"v":43.6},{"h":21.2,"v":42.3},{"h":23.7,"v":41},{"h":26.2,"v":40},{"h":28.8,"v":39},{"h":31.9,"v":38.6},{"h":33.2,"v":39.4},{"h":35,"v":42.6},{"h":36.9,"v":46.8},{"h":38.6,"v":49.3},{"h":39.5,"v":47.8},{"h":40.8,"v":46.3},{"h":42.7,"v":45},{"h":45.2,"v":43.6},{"h":47.7,"v":42.7},{"h":50.3,"v":42.1},{"h":55.3,"v":41.5},{"h":56.5,"v":41.9},{"h":57.8,"v":44.7},{"h":59.1,"v":48.4},{"h":61.9,"v":48.5},{"h":63.5,"v":48.8},{"h":64.7,"v":47.8},{"h":67.3,"v":46.9},{"h":71,"v":46},{"h":73.6,"v":45.5},{"h":77.4,"v":44.7},{"h":80.6,"v":44.3},{"h":81.8,"v":44.4},{"h":84.3,"v":46.7},{"h":86.2,"v":47},{"h":87.4,"v":46.8},{"h":88.7,"v":45.2},{"h":91.2,"v":43.1},{"h":93.8,"v":41.3},{"h":96.3,"v":39.7},{"h":98.8,"v":38.6},{"h":101.3,"v":37.6},{"h":103.8,"v":36.5},{"h":105.7,"v":37.6},{"h":108.2,"v":40.2},{"h":110.1,"v":41.5},{"h":112,"v":41},{"h":113.9,"v":40},{"h":116.4,"v":39.4},{"h":121.5,"v":39.4},{"h":127.2,"v":40},{"h":129.1,"v":40.6},{"h":131.6,"v":42.7},{"h":134.2,"v":41.8},{"h":136.7,"v":40.6},{"h":139.2,"v":39.8},{"h":144.2,"v":38.6},{"h":149.3,"v":37.6},{"h":151.8,"v":37.3},{"h":154.3,"v":37.8},{"h":158.8,"v":38.8},{"h":162,"v":38.6},{"h":167,"v":38.3},{"h":170.8,"v":38},{"h":175.8,"v":37.5},{"h":177.7,"v":39.6},{"h":179.6,"v":41.8},{"h":181.5,"v":45},{"h":182.9,"v":45.7},{"h":184,"v":44.5},{"h":185.9,"v":42.6},{"h":188.5,"v":41.6},{"h":191,"v":40.8},{"h":193.5,"v":39.8},{"h":196.1,"v":39.2},{"h":199.2,"v":39},{"h":201,"v":39.2},{"h":202.9,"v":40.5},{"h":204.8,"v":41.9},{"h":206.7,"v":42.6},{"h":209.2,"v":42.1},{"h":211.7,"v":41.2},{"h":214.3,"v":40.8},{"h":216.2,"v":40.9},{"h":218,"v":42},{"h":220,"v":43.6},{"h":222.5,"v":45},{"h":224.4,"v":45.3},{"h":225.7,"v":47},{"h":227.5,"v":51.3},{"h":229.4,"v":51.1},{"h":231.3,"v":50.8},{"h":233.2,"v":50},{"h":235.7,"v":49.1},{"h":238.2,"v":48.1},{"h":240.8,"v":47.1},{"h":243.9,"v":46.2},{"h":246.5,"v":45.6},{"h":248.9,"v":45.6},{"h":251.5,"v":46},{"h":253.4,"v":46.6},{"h":255.3,"v":47},{"h":257.1,"v":46.3},{"h":260.3,"v":45.2},{"h":263.4,"v":44.4},{"h":266,"v":43.8},{"h":267.9,"v":43.4},{"h":270.4,"v":43.6},{"h":272.3,"v":44.1},{"h":274.2,"v":48.4},{"h":277.9,"v":53.6},{"h":279.6,"v":54.4},{"h":282.4,"v":51.5},{"h":284.9,"v":49.9},{"h":288.1,"v":48.6},{"h":291.2,"v":47.3},{"h":294.4,"v":46.5},{"h":296.9,"v":46.5},{"h":299.4,"v":47.3},{"h":301.9,"v":48.1},{"h":304.5,"v":47.8},{"h":307,"v":47.2},{"h":310.2,"v":46.3},{"h":313.3,"v":45.5},{"h":315.9,"v":44.9},{"h":319.6,"v":44.8},{"h":321.8,"v":46.3},{"h":324,"v":45.5},{"h":326.6,"v":45.5},{"h":329.1,"v":44.2},{"h":332.2,"v":42.3},{"h":334.7,"v":41.5},{"h":337.2,"v":41},{"h":340,"v":40},{"h":343.6,"v":38.8},{"h":346.1,"v":41.2},{"h":348.7,"v":45.5},{"h":350.6,"v":46.8},{"h":352.4,"v":44.2},{"h":355,"v":41.8},{"h":358.1,"v":40},{"h":361.3,"v":39.5},{"h":365,"v":39.1},{"h":371.4,"v":39.4},{"h":374.5,"v":39.8},{"h":377,"v":40.2},{"h":380.2,"v":39.4},{"h":384,"v":37.6},{"h":387.2,"v":36.2},{"h":390.3,"v":35.5},{"h":392.5,"v":36.2},{"h":394.1,"v":40.2},{"h":396.6,"v":41},{"h":398.5,"v":42},{"h":400.4,"v":39.4},{"h":402.9,"v":36.8},{"h":405.5,"v":35.2},{"h":408,"v":35.2},{"h":410.5,"v":35.6},{"h":413,"v":35.4},{"h":415.5,"v":34.9},{"h":418.1,"v":37.3},{"h":420.6,"v":41.5},{"h":422.2,"v":42.2},{"h":424.4,"v":40.2},{"h":428.2,"v":37.8},{"h":431.4,"v":36.3},{"h":434.5,"v":35.2},{"h":438.9,"v":34.8},{"h":441.4,"v":36.8},{"h":445.8,"v":39.4},{"h":450.3,"v":36.5},{"h":456.6,"v":32.7},{"h":462.2,"v":30.7},{"h":464.2,"v":31.5},{"h":468,"v":34.7},{"h":470.4,"v":34},{"h":473.6,"v":33},{"h":476.1,"v":32.4},{"h":479,"v":32.1}],
"w4":[{"h":0,"v":46.5},{"h":3,"v":45.5},{"h":5.4,"v":44.7},{"h":8,"v":43.9},{"h":9.2,"v":43.7},{"h":10.5,"v":44.7},{"h":11.7,"v":46.3},{"h":13.3,"v":48.1},{"h":14.3,"v":48.5},{"h":15.5,"v":47.3},{"h":16.8,"v":45.7},{"h":18.7,"v":44.4},{"h":21.2,"v":42.8},{"h":23.7,"v":41.5},{"h":26.2,"v":40.5},{"h":28.8,"v":40},{"h":30.7,"v":39.7},{"h":32.2,"v":39.4},{"h":33.2,"v":40.5},{"h":35,"v":43.6},{"h":36.7,"v":47.8},{"h":37.6,"v":50.1},{"h":38.9,"v":50.5},{"h":40.2,"v":47.8},{"h":41.4,"v":46.5},{"h":43.3,"v":45.2},{"h":45.2,"v":44.2},{"h":47.7,"v":43.2},{"h":50.3,"v":42.7},{"h":52.8,"v":42.3},{"h":55.3,"v":42.2},{"h":56.2,"v":42.3},{"h":57.5,"v":45.2},{"h":58.4,"v":48.9},{"h":59.1,"v":50.4},{"h":60.6,"v":49.7},{"h":61.9,"v":49.9},{"h":63.8,"v":49.7},{"h":65.4,"v":48.6},{"h":67.9,"v":47.6},{"h":71,"v":46.5},{"h":74.8,"v":45.9},{"h":77.4,"v":45.6},{"h":80.6,"v":45.2},{"h":81.8,"v":45.2},{"h":84,"v":47.5},{"h":85.6,"v":47.9},{"h":87,"v":48.3},{"h":88.7,"v":45.8},{"h":91.2,"v":43.4},{"h":93.8,"v":41.6},{"h":96.3,"v":40.2},{"h":98.8,"v":39},{"h":101.3,"v":38.1},{"h":103.3,"v":37.4},{"h":104.5,"v":37},{"h":106.4,"v":38.6},{"h":108.7,"v":41},{"h":110.1,"v":42.6},{"h":111.1,"v":42.8},{"h":112.7,"v":41},{"h":114.6,"v":40.2},{"h":116.4,"v":40},{"h":121.5,"v":40.5},{"h":127.2,"v":40.7},{"h":129.1,"v":41.3},{"h":131.6,"v":42.8},{"h":134.2,"v":42.2},{"h":136.7,"v":41.3},{"h":139.2,"v":40.5},{"h":141.7,"v":39.7},{"h":144.2,"v":39.1},{"h":146.7,"v":38.8},{"h":149.3,"v":37.8},{"h":151.8,"v":37.9},{"h":154.3,"v":38.4},{"h":156.9,"v":38.9},{"h":158.8,"v":39.4},{"h":163,"v":39.2},{"h":167,"v":39.4},{"h":170.8,"v":38.6},{"h":173.3,"v":38.1},{"h":175.8,"v":37.8},{"h":177.7,"v":40},{"h":179.6,"v":42},{"h":181.5,"v":45.7},{"h":182.9,"v":46.5},{"h":184,"v":44.9},{"h":185.9,"v":42.8},{"h":188.5,"v":41.8},{"h":191,"v":41},{"h":193.5,"v":40},{"h":196.1,"v":39.4},{"h":199.2,"v":39.1},{"h":201,"v":39.4},{"h":202.9,"v":40.7},{"h":204.8,"v":42.1},{"h":206.7,"v":42.8},{"h":209.2,"v":42.3},{"h":211.7,"v":41.4},{"h":214.3,"v":41},{"h":216.2,"v":41.1},{"h":218,"v":42.3},{"h":220,"v":43.9},{"h":222.5,"v":45.3},{"h":224.4,"v":45.5},{"h":225.7,"v":47.3},{"h":227.5,"v":51.3},{"h":229.4,"v":51.3},{"h":231.3,"v":51},{"h":233.2,"v":50.2},{"h":235.7,"v":49.4},{"h":238.2,"v":48.4},{"h":240.8,"v":47.3},{"h":243.9,"v":46.4},{"h":246.5,"v":45.7},{"h":248.9,"v":45.7},{"h":251.5,"v":46.2},{"h":253.4,"v":46.8},{"h":255.3,"v":47.2},{"h":257.1,"v":46.5},{"h":260.3,"v":45},{"h":263.4,"v":44.4},{"h":266,"v":43.9},{"h":267.9,"v":43.4},{"h":270.4,"v":43.9},{"h":272.3,"v":44.4},{"h":273.6,"v":47.8},{"h":275.5,"v":50.7},{"h":277.4,"v":54.7},{"h":278.6,"v":59.4},{"h":279.9,"v":58.4},{"h":281.8,"v":54.7},{"h":284.3,"v":51.5},{"h":286.2,"v":50.5},{"h":288.7,"v":49.2},{"h":291.2,"v":48.4},{"h":293.7,"v":47.4},{"h":296.2,"v":47},{"h":298.8,"v":47.3},{"h":301.3,"v":48.5},{"h":303.8,"v":48.6},{"h":306.4,"v":47.8},{"h":308.9,"v":47.3},{"h":312.1,"v":46.3},{"h":315.2,"v":45.6},{"h":317.7,"v":45.2},{"h":319.6,"v":44.9},{"h":321.5,"v":45.8},{"h":324,"v":45.7},{"h":326.6,"v":46.5},{"h":329.1,"v":44.9},{"h":331.6,"v":43.1},{"h":334.1,"v":41.8},{"h":336,"v":41.8},{"h":338.6,"v":41},{"h":341.1,"v":40.5},{"h":343.6,"v":39.1},{"h":346.1,"v":41.5},{"h":348.7,"v":46.8},{"h":350.6,"v":48.4},{"h":352.4,"v":44.7},{"h":354.9,"v":42.1},{"h":358.1,"v":40.2},{"h":361.3,"v":39.7},{"h":364.4,"v":39.5},{"h":367.6,"v":39.7},{"h":370.7,"v":40.2},{"h":373.9,"v":40.5},{"h":375.5,"v":42.3},{"h":377.7,"v":41.3},{"h":380.9,"v":40},{"h":384,"v":38.4},{"h":387.2,"v":36.9},{"h":390.3,"v":36.2},{"h":391.6,"v":36.8},{"h":393.5,"v":40.5},{"h":396,"v":41.8},{"h":398.5,"v":43.4},{"h":400.4,"v":41},{"h":402.9,"v":38.6},{"h":405.5,"v":36.2},{"h":408,"v":35.9},{"h":410.5,"v":35.7},{"h":413,"v":35.2},{"h":415.5,"v":34.4},{"h":418.1,"v":37.8},{"h":420.2,"v":42.5},{"h":421.7,"v":43.7},{"h":423.8,"v":41.5},{"h":425.7,"v":39.7},{"h":428.2,"v":38.1},{"h":431.4,"v":36.5},{"h":434.5,"v":35.5},{"h":437,"v":35.3},{"h":438.9,"v":34.9},{"h":441.4,"v":36.8},{"h":444,"v":38.9},{"h":445.8,"v":39.7},{"h":447.8,"v":38.9},{"h":450.3,"v":36.8},{"h":453.4,"v":34.9},{"h":456.6,"v":32.8},{"h":459.1,"v":31.6},{"h":462.2,"v":31.2},{"h":464.2,"v":31.7},{"h":466,"v":33.6},{"h":467.6,"v":34.9},{"h":470.4,"v":34.4},{"h":473.6,"v":33.2},{"h":476.1,"v":32.7},{"h":479,"v":32.3}],
"out":[{"h":0,"v":23.9},{"h":3,"v":23.1},{"h":6.7,"v":22.6},{"h":8.6,"v":23.2},{"h":9.2,"v":24.7},{"h":9.8,"v":29.4},{"h":10.8,"v":33.9},{"h":13,"v":34.1},{"h":14.9,"v":30.5},{"h":16.2,"v":25.7},{"h":17.7,"v":22},{"h":19.6,"v":20.4},{"h":21.5,"v":19.7},{"h":23.7,"v":18.1},{"h":25.6,"v":17.5},{"h":28.1,"v":17.5},{"h":29.4,"v":18.3},{"h":31.6,"v":18.6},{"h":32.2,"v":21.5},{"h":32.8,"v":27.8},{"h":34.4,"v":34.1},{"h":36.3,"v":40.5},{"h":37.3,"v":41.5},{"h":38.5,"v":39.4},{"h":39.2,"v":35.7},{"h":39.8,"v":31},{"h":41.1,"v":29.4},{"h":42.3,"v":29.1},{"h":44.2,"v":29.4},{"h":46.1,"v":27.8},{"h":47.7,"v":27.4},{"h":49.6,"v":27.9},{"h":51.5,"v":27.3},{"h":53.1,"v":25.2},{"h":54.6,"v":25.2},{"h":55.9,"v":25.7},{"h":56.5,"v":29.9},{"h":57.2,"v":35.2},{"h":58.1,"v":40},{"h":59.1,"v":40.7},{"h":60.6,"v":37.8},{"h":62.8,"v":35.7},{"h":64.1,"v":33.6},{"h":65.4,"v":32.3},{"h":67.9,"v":31.6},{"h":72.3,"v":30.9},{"h":76.6,"v":30.2},{"h":79.2,"v":30.7},{"h":81.1,"v":33.6},{"h":82.7,"v":39.4},{"h":84.3,"v":37.8},{"h":85.3,"v":35.5},{"h":85.9,"v":36.2},{"h":86.5,"v":34.1},{"h":87.4,"v":28.3},{"h":88.7,"v":23.6},{"h":90.3,"v":18.3},{"h":91.8,"v":16.2},{"h":94,"v":14.9},{"h":96.3,"v":13.6},{"h":98.8,"v":12.3},{"h":100.4,"v":11.5},{"h":103.2,"v":11.5},{"h":103.8,"v":15.2},{"h":104.8,"v":21},{"h":106.4,"v":25.2},{"h":108.2,"v":27.8},{"h":110.1,"v":26.8},{"h":111.4,"v":23.6},{"h":113.3,"v":21},{"h":115.2,"v":19.1},{"h":115.9,"v":21.2},{"h":117.7,"v":24.4},{"h":120.2,"v":26},{"h":122.8,"v":27.3},{"h":124.4,"v":27.6},{"h":125.6,"v":27},{"h":126.9,"v":26},{"h":127.8,"v":27.6},{"h":129.1,"v":29.7},{"h":131,"v":31.5},{"h":131.9,"v":30.7},{"h":132.9,"v":28.9},{"h":134.8,"v":26.2},{"h":137.3,"v":23.1},{"h":140.4,"v":21},{"h":143.6,"v":19.4},{"h":146.8,"v":18.6},{"h":149.9,"v":18.6},{"h":152.4,"v":19.1},{"h":154.9,"v":19.9},{"h":157.5,"v":19.7},{"h":159.4,"v":19.4},{"h":161.9,"v":19.9},{"h":163.8,"v":20.2},{"h":166.3,"v":19.9},{"h":167.9,"v":18.9},{"h":169.5,"v":19.4},{"h":170.8,"v":21.5},{"h":172.7,"v":21.5},{"h":174.2,"v":19.7},{"h":175.2,"v":20.4},{"h":176.1,"v":26.2},{"h":177.4,"v":31.5},{"h":179,"v":33.9},{"h":181.2,"v":34.7},{"h":182.4,"v":31},{"h":183.4,"v":28.3},{"h":184.6,"v":26.2},{"h":187.1,"v":24.7},{"h":189.7,"v":23.1},{"h":192.2,"v":21.5},{"h":194.4,"v":22.3},{"h":195.7,"v":22},{"h":197.2,"v":18.9},{"h":199.1,"v":21},{"h":200.4,"v":24.7},{"h":201.4,"v":28.6},{"h":202.6,"v":31},{"h":204.8,"v":29.9},{"h":207.3,"v":27.6},{"h":209.9,"v":26.8},{"h":211.4,"v":28.3},{"h":213.6,"v":31.5},{"h":215.5,"v":34.1},{"h":217.4,"v":37.8},{"h":219.3,"v":40.2},{"h":221.5,"v":41},{"h":222.5,"v":37.8},{"h":223.7,"v":40.7},{"h":224.4,"v":43.6},{"h":225.3,"v":48.9},{"h":226.3,"v":50.7},{"h":227.2,"v":47.8},{"h":228.2,"v":44.7},{"h":229.4,"v":41},{"h":231.3,"v":40},{"h":232.9,"v":38.4},{"h":234.8,"v":37.8},{"h":237,"v":36.2},{"h":239.5,"v":35.2},{"h":242.7,"v":33.6},{"h":244.5,"v":33.1},{"h":246.5,"v":33.6},{"h":248.4,"v":35.2},{"h":250.2,"v":37.3},{"h":252.1,"v":37.1},{"h":254,"v":36.8},{"h":255.5,"v":35.2},{"h":256.8,"v":32},{"h":258.4,"v":28.9},{"h":259.7,"v":27.6},{"h":260.9,"v":31},{"h":262.2,"v":31},{"h":263.4,"v":27.8},{"h":264.7,"v":30.2},{"h":265.9,"v":27},{"h":267.9,"v":28.3},{"h":269.1,"v":31},{"h":270.4,"v":33.1},{"h":271.3,"v":38.4},{"h":272.3,"v":42.8},{"h":273.6,"v":42.6},{"h":274.8,"v":44.2},{"h":276.4,"v":45.2},{"h":277.7,"v":44.7},{"h":278.3,"v":41.5},{"h":279,"v":36.2},{"h":279.6,"v":31.5},{"h":280.5,"v":28.3},{"h":282.4,"v":26.5},{"h":284,"v":27.8},{"h":285.9,"v":31.2},{"h":288.1,"v":32.8},{"h":290.6,"v":34.7},{"h":292.5,"v":33.4},{"h":294.4,"v":33.1},{"h":295.7,"v":35.7},{"h":297.9,"v":38.4},{"h":299.7,"v":39.4},{"h":301.3,"v":37.3},{"h":303.2,"v":37.1},{"h":305.7,"v":35.7},{"h":307.9,"v":35.2},{"h":309.5,"v":33.1},{"h":312,"v":31.8},{"h":314.6,"v":31.2},{"h":317.7,"v":30.5},{"h":319,"v":31.2},{"h":319.9,"v":35.2},{"h":321.2,"v":36.2},{"h":322.8,"v":32.8},{"h":324.7,"v":33.4},{"h":326.9,"v":32.3},{"h":327.5,"v":27.3},{"h":328.4,"v":26.2},{"h":330.3,"v":23.6},{"h":332.9,"v":21.5},{"h":335.4,"v":19.4},{"h":337.2,"v":18.1},{"h":338.6,"v":16.8},{"h":340.4,"v":14.1},{"h":341.7,"v":12},{"h":342.9,"v":14.1},{"h":343.9,"v":19.4},{"h":344.9,"v":26.2},{"h":346.5,"v":31.2},{"h":348.7,"v":33.9},{"h":349.9,"v":32},{"h":350.9,"v":28.9},{"h":351.8,"v":24.7},{"h":352.4,"v":21},{"h":353.7,"v":17},{"h":355.6,"v":14.6},{"h":357.5,"v":15.7},{"h":359.4,"v":16.8},{"h":361.9,"v":17.3},{"h":364.4,"v":17.8},{"h":367,"v":18.3},{"h":368.8,"v":21},{"h":370.7,"v":21.5},{"h":373,"v":22.6},{"h":375.1,"v":21.5},{"h":377,"v":20.2},{"h":379.6,"v":20.4},{"h":381.4,"v":18.9},{"h":383.4,"v":16.8},{"h":385.6,"v":15.2},{"h":387.8,"v":14.9},{"h":390.3,"v":14.6},{"h":391.6,"v":16.8},{"h":392.5,"v":22},{"h":393.5,"v":25.2},{"h":394.7,"v":25.4},{"h":396,"v":26},{"h":397.9,"v":26.2},{"h":398.8,"v":23.1},{"h":399.8,"v":18.9},{"h":401.3,"v":14.6},{"h":403.5,"v":13.1},{"h":406.1,"v":12},{"h":408.6,"v":11.5},{"h":409.2,"v":7.8},{"h":410.2,"v":6.7},{"h":411.8,"v":7.3},{"h":412.7,"v":5.7},{"h":414.9,"v":4.2},{"h":415.5,"v":6.7},{"h":416.5,"v":15.7},{"h":417.4,"v":20.4},{"h":418.7,"v":26.2},{"h":420.6,"v":28.3},{"h":421.9,"v":28.4},{"h":423.1,"v":23.6},{"h":424.4,"v":18.3},{"h":425.7,"v":15.2},{"h":428.2,"v":13.6},{"h":430.7,"v":11},{"h":432,"v":10.4},{"h":434.5,"v":11},{"h":437,"v":10.7},{"h":438.9,"v":11.5},{"h":439.9,"v":15.7},{"h":440.8,"v":20.4},{"h":442,"v":24.1},{"h":444,"v":26.2},{"h":445.8,"v":25.7},{"h":447.1,"v":21.5},{"h":449,"v":17.3},{"h":451.5,"v":14.1},{"h":454,"v":9.9},{"h":456.6,"v":7.3},{"h":459.1,"v":5.7},{"h":461,"v":4.6},{"h":462.9,"v":4.4},{"h":464.2,"v":6.7},{"h":465.4,"v":12},{"h":466.7,"v":15.4},{"h":468.6,"v":14.6},{"h":470.4,"v":12.5},{"h":472.3,"v":9.9},{"h":474.9,"v":9.6},{"h":477.4,"v":9.9},{"h":479,"v":9.6}]
},
"layer":[
{"data":{"name":"s2"},"mark":{"type":"line","strokeWidth":5.5,"strokeJoin":"round"},
 "encoding":{
  "x":{"field":"h","type":"quantitative","scale":{"domain":[-0.5,479.5],"nice":false,"zero":false},
   "axis":{"title":null,"values":[0,8,16,24,32,40,48,56,64,72,80,88,96,104,112,120,128,136,144,152,160,168,176,184,192,200,208,216,224,232,240,248,256,264,272,280,288,296,304,312,320,328,336,344,352,360,368,376,384,392,400,408,416,424,432,440,448,456,464,472],
    "labelExpr":"'1-' + (floor(datum.value / 24) + 1) + 'T' + (datum.value % 24) + ':00'",
    "labelAngle":-90,"labelAlign":"right","labelBaseline":"middle","labelPadding":23,"labelFont":"Liberation Sans","labelFontSize":28,"labelColor":"#595959","ticks":false,"domain":false,"grid":false,"labelOverlap":false,"labelFlush":false,"labelBound":false}},
  "y":{"field":"v","type":"quantitative","scale":{"domain":[0,80],"nice":false},
   "axis":{"title":null,"values":[0,10,20,30,40,50,60,70,80],"labelFont":"Liberation Sans","labelFontSize":26,"labelColor":"#595959","labelPadding":31,"ticks":false,"domain":false,"grid":true,"gridColor":"#D9D9D9","gridWidth":2}},
  "color":{"datum":"box2-south-Temp","scale":{"domain":["box2-south-Temp","box2-north-Temp","box2-east-Temp","box2-west-Temp","box3-east-Temp","box3-west-Temp","box4-south-Temp","box4-north-Temp","box4-east-Temp","box4-west-Temp","outdoor-Temp"],"range":["#4472C4","#ED7D31","#A5A5A5","#FFC000","#5B9BD5","#70AD47","#F8CBAD","#9E480E","#636363","#997300","#43682B"]},
   "legend":{"title":null,"orient":"none","legendX":314,"legendY":1396,"direction":"horizontal","columns":6,"gridAlign":"all","columnPadding":-19.5,"rowPadding":-18,"labelFont":"Liberation Sans","labelFontSize":30,"labelColor":"#595959","labelOffset":6,"labelLimit":400,"symbolType":"stroke","symbolSize":5329,"symbolStrokeWidth":7}},
  "strokeDash":{"datum":"box2-south-Temp","scale":{"domain":["box2-south-Temp","box2-north-Temp","box2-east-Temp","box2-west-Temp","box3-east-Temp","box3-west-Temp","box4-south-Temp","box4-north-Temp","box4-east-Temp","box4-west-Temp","outdoor-Temp"],"range":[[1,0],[1,0],[1,0],[1,0],[1,0],[1,0],[1,0],[1,0],[1,0],[1,0],[18,10]]},
   "legend":{"title":null,"orient":"none","legendX":314,"legendY":1396,"direction":"horizontal","columns":6,"gridAlign":"all","columnPadding":-19.5,"rowPadding":-18,"labelFont":"Liberation Sans","labelFontSize":30,"labelColor":"#595959","labelOffset":6,"labelLimit":400,"symbolType":"stroke","symbolSize":5329,"symbolStrokeWidth":7}}}},
{"data":{"name":"n2"},"mark":{"type":"line","strokeWidth":5.5,"strokeJoin":"round"},"encoding":{"x":{"field":"h","type":"quantitative"},"y":{"field":"v","type":"quantitative"},"color":{"datum":"box2-north-Temp"},"strokeDash":{"datum":"box2-north-Temp"}}},
{"data":{"name":"e2"},"mark":{"type":"line","strokeWidth":5.5,"strokeJoin":"round"},"encoding":{"x":{"field":"h","type":"quantitative"},"y":{"field":"v","type":"quantitative"},"color":{"datum":"box2-east-Temp"},"strokeDash":{"datum":"box2-east-Temp"}}},
{"data":{"name":"w2"},"mark":{"type":"line","strokeWidth":5.5,"strokeJoin":"round"},"encoding":{"x":{"field":"h","type":"quantitative"},"y":{"field":"v","type":"quantitative"},"color":{"datum":"box2-west-Temp"},"strokeDash":{"datum":"box2-west-Temp"}}},
{"data":{"name":"e3"},"mark":{"type":"line","strokeWidth":5.5,"strokeJoin":"round"},"encoding":{"x":{"field":"h","type":"quantitative"},"y":{"field":"v","type":"quantitative"},"color":{"datum":"box3-east-Temp"},"strokeDash":{"datum":"box3-east-Temp"}}},
{"data":{"name":"w3"},"mark":{"type":"line","strokeWidth":5.5,"strokeJoin":"round"},"encoding":{"x":{"field":"h","type":"quantitative"},"y":{"field":"v","type":"quantitative"},"color":{"datum":"box3-west-Temp"},"strokeDash":{"datum":"box3-west-Temp"}}},
{"data":{"name":"s4"},"mark":{"type":"line","strokeWidth":5.5,"strokeJoin":"round"},"encoding":{"x":{"field":"h","type":"quantitative"},"y":{"field":"v","type":"quantitative"},"color":{"datum":"box4-south-Temp"},"strokeDash":{"datum":"box4-south-Temp"}}},
{"data":{"name":"n4"},"mark":{"type":"line","strokeWidth":5.5,"strokeJoin":"round"},"encoding":{"x":{"field":"h","type":"quantitative"},"y":{"field":"v","type":"quantitative"},"color":{"datum":"box4-north-Temp"},"strokeDash":{"datum":"box4-north-Temp"}}},
{"data":{"name":"e4"},"mark":{"type":"line","strokeWidth":5.5,"strokeJoin":"round"},"encoding":{"x":{"field":"h","type":"quantitative"},"y":{"field":"v","type":"quantitative"},"color":{"datum":"box4-east-Temp"},"strokeDash":{"datum":"box4-east-Temp"}}},
{"data":{"name":"w4"},"mark":{"type":"line","strokeWidth":5.5,"strokeJoin":"round"},"encoding":{"x":{"field":"h","type":"quantitative"},"y":{"field":"v","type":"quantitative"},"color":{"datum":"box4-west-Temp"},"strokeDash":{"datum":"box4-west-Temp"}}},
{"data":{"name":"out"},"mark":{"type":"line","strokeWidth":6,"strokeJoin":"round"},"encoding":{"x":{"field":"h","type":"quantitative"},"y":{"field":"v","type":"quantitative"},"color":{"datum":"outdoor-Temp"},"strokeDash":{"datum":"outdoor-Temp"}}},
{"data":{"values":[{"h":375.9,"v":65.7,"h2":379.7,"v2":0.4},{"h":408.4,"v":69.2,"h2":412.2,"v2":4.6}]},
 "mark":{"type":"rule","color":"#4472C4","strokeWidth":2,"strokeDash":[12,4,2,4]},
 "encoding":{"x":{"field":"h","type":"quantitative"},"y":{"field":"v","type":"quantitative"},"x2":{"field":"h2"},"y2":{"field":"v2"}}},
{"data":{"values":[{"h":50.05,"v":68.37}]},"mark":{"type":"point","shape":"M0,-1L0.725,-0.268L0.34,-0.268L0.34,1L-0.34,1L-0.34,-0.268L-0.725,-0.268Z","size":13549,"angle":-138.8,"filled":true,"fill":"#4472C4","stroke":"#1F3864","strokeWidth":2,"opacity":1},"encoding":{"x":{"field":"h","type":"quantitative"},"y":{"field":"v","type":"quantitative"}}},
{"data":{"values":[{"h":88.8,"v":66.58}]},"mark":{"type":"point","shape":"M0,-1L0.856,-0.191L0.42,-0.191L0.42,1L-0.42,1L-0.42,-0.191L-0.856,-0.191Z","size":9781,"angle":169.2,"filled":true,"fill":"#4472C4","stroke":"#1F3864","strokeWidth":2,"opacity":1},"encoding":{"x":{"field":"h","type":"quantitative"},"y":{"field":"v","type":"quantitative"}}},
{"data":{"values":[{"h":176.6,"v":29.1}]},"mark":{"type":"point","shape":"M0,-1L0.207,-0.797L0.095,-0.797L0.095,1L-0.095,1L-0.095,-0.797L-0.207,-0.797Z","size":214184,"angle":-24.2,"filled":true,"fill":"#4472C4","stroke":"#1F3864","strokeWidth":2,"opacity":1},"encoding":{"x":{"field":"h","type":"quantitative"},"y":{"field":"v","type":"quantitative"}}},
{"data":{"values":[{"h":365.7,"v":63.53}]},"mark":{"type":"point","shape":"M0,-1L0.489,-0.517L0.229,-0.517L0.229,1L-0.229,1L-0.229,-0.517L-0.489,-0.517Z","size":28629,"angle":148.5,"filled":true,"fill":"#4472C4","stroke":"#1F3864","strokeWidth":2,"opacity":1},"encoding":{"x":{"field":"h","type":"quantitative"},"y":{"field":"v","type":"quantitative"}}},
{"data":{"values":[{"h":423.4,"v":66.16}]},"mark":{"type":"point","shape":"M0,-1L0.753,-0.272L0.353,-0.272L0.353,1L-0.353,1L-0.353,-0.272L-0.753,-0.272Z","size":16744,"angle":-140.9,"filled":true,"fill":"#4472C4","stroke":"#1F3864","strokeWidth":2,"opacity":1},"encoding":{"x":{"field":"h","type":"quantitative"},"y":{"field":"v","type":"quantitative"}}},
{"data":{"values":[
  {"h":4.5,"v":82.82,"txt":["The peaks in all but the box3-west (green) are due to heat transfer into the","colony when the sun heats up the wrap.\u00a0\u00a0 The box3-west temp doesn’t","change because the bees maintain a constant temp and that side of the","colony doesn’t get direct sun"]},
  {"h":130.8,"v":12.66,"txt":["Cluster moved toward the east sensor starting","at 8am – even though it snowed that day.","This could have been triggered by me brushing","snow off the colonies in the morning"]}]},
 "mark":{"type":"text","align":"left","baseline":"alphabetic","font":"Lato","fontStyle":"italic","fontSize":42,"lineHeight":51.5,"color":"#C00000"},
 "encoding":{"x":{"field":"h","type":"quantitative"},"y":{"field":"v","type":"quantitative"},"text":{"field":"txt"}}},
{"data":{"values":[
  {"h":318.2,"v":81.48,"txt":["Bees were disturbed","when I lightly","brushed fluffy snow","off colonies"]},
  {"h":413.8,"v":82.1,"txt":["went toward the east","sensor to get some","moisture as the temp","dropped at night"]}]},
 "mark":{"type":"text","align":"left","baseline":"alphabetic","font":"Lato","fontStyle":"italic","fontSize":47,"lineHeight":58,"color":"#C00000"},
 "encoding":{"x":{"field":"h","type":"quantitative"},"y":{"field":"v","type":"quantitative"},"text":{"field":"txt"}}}
]
}
